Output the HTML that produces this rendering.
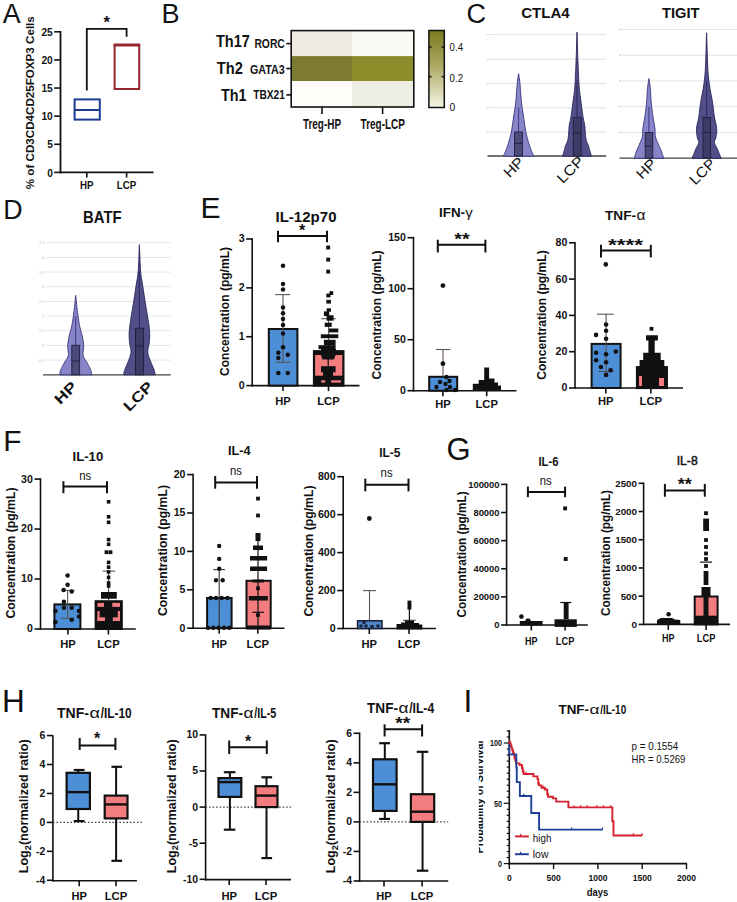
<!DOCTYPE html>
<html><head><meta charset="utf-8"><style>
html,body{margin:0;padding:0;background:#fff;}
svg{display:block;font-family:"Liberation Sans",sans-serif;}
</style></head><body>
<svg width="737" height="902" viewBox="0 0 737 902">
<rect x="0" y="0" width="737" height="902" fill="#ffffff"/>
<text x="2.65" y="22.8" font-size="26.8" font-weight="normal" text-anchor="start" fill="#111" >A</text>
<line x1="60.5" y1="31" x2="60.5" y2="173.3" stroke="#111" stroke-width="1.8" />
<line x1="59.6" y1="172.4" x2="153.5" y2="172.4" stroke="#111" stroke-width="1.8" />
<line x1="54.2" y1="172.4" x2="60.5" y2="172.4" stroke="#111" stroke-width="1.6" />
<text x="52.8" y="176.5" font-size="10.2" font-weight="bold" text-anchor="end" fill="#111" >0</text>
<line x1="54.2" y1="144.28" x2="60.5" y2="144.28" stroke="#111" stroke-width="1.6" />
<text x="52.8" y="148.38" font-size="10.2" font-weight="bold" text-anchor="end" fill="#111" >5</text>
<line x1="54.2" y1="116.16" x2="60.5" y2="116.16" stroke="#111" stroke-width="1.6" />
<text x="52.8" y="120.26" font-size="10.2" font-weight="bold" text-anchor="end" fill="#111" >10</text>
<line x1="54.2" y1="88.04" x2="60.5" y2="88.04" stroke="#111" stroke-width="1.6" />
<text x="52.8" y="92.14" font-size="10.2" font-weight="bold" text-anchor="end" fill="#111" >15</text>
<line x1="54.2" y1="59.92" x2="60.5" y2="59.92" stroke="#111" stroke-width="1.6" />
<text x="52.8" y="64.02" font-size="10.2" font-weight="bold" text-anchor="end" fill="#111" >20</text>
<line x1="54.2" y1="31.8" x2="60.5" y2="31.8" stroke="#111" stroke-width="1.6" />
<text x="52.8" y="35.9" font-size="10.2" font-weight="bold" text-anchor="end" fill="#111" >25</text>
<line x1="86.8" y1="172.4" x2="86.8" y2="177.5" stroke="#111" stroke-width="1.6" />
<line x1="126.6" y1="172.4" x2="126.6" y2="177.5" stroke="#111" stroke-width="1.6" />
<text x="86.8" y="189.2" font-size="10.2" font-weight="bold" text-anchor="middle" fill="#111" textLength="13.5" lengthAdjust="spacingAndGlyphs" >HP</text>
<text x="126.6" y="189.2" font-size="10.2" font-weight="bold" text-anchor="middle" fill="#111" textLength="19.5" lengthAdjust="spacingAndGlyphs" >LCP</text>
<text x="34.2" y="102.7" font-size="10.6" font-weight="bold" text-anchor="middle" fill="#111" textLength="173" lengthAdjust="spacingAndGlyphs" transform="rotate(-90 34.2 102.7)" >% of CD3CD4CD25FOXP3 Cells</text>
<rect x="74.6" y="99.4" width="25.2" height="20.2" fill="none" stroke="#1c3a92" stroke-width="2" />
<line x1="74.6" y1="110" x2="99.8" y2="110" stroke="#1c3a92" stroke-width="2" />
<rect x="114.6" y="45" width="24.6" height="44" fill="none" stroke="#95262e" stroke-width="2" />
<line x1="113.6" y1="45" x2="140.2" y2="45" stroke="#95262e" stroke-width="3" />
<path d="M86.8 90.5 V28.9 H126.6 V36.7" fill="none" stroke="#111" stroke-width="1.8" />
<text x="106.8" y="27.5" font-size="16.5" font-weight="bold" text-anchor="middle" fill="#111" >*</text>
<text x="161.5" y="22.8" font-size="27.1" font-weight="normal" text-anchor="start" fill="#111" >B</text>
<rect x="291.2" y="30.6" width="60.8" height="25.5" fill="#efebe1" stroke="none" stroke-width="0" />
<rect x="352" y="30.6" width="61.8" height="25.5" fill="#faf9f4" stroke="none" stroke-width="0" />
<rect x="291.2" y="56.1" width="60.8" height="24.9" fill="#7d7b31" stroke="none" stroke-width="0" />
<rect x="352" y="56.1" width="61.8" height="24.9" fill="#8f8d2b" stroke="none" stroke-width="0" />
<rect x="291.2" y="81" width="60.8" height="26" fill="#fefdfa" stroke="none" stroke-width="0" />
<rect x="352" y="81" width="61.8" height="26" fill="#efeee5" stroke="none" stroke-width="0" />
<rect x="291.2" y="30.6" width="122.6" height="76.4" fill="none" stroke="#111" stroke-width="1.6" />
<text x="216" y="46.9" font-size="15.6" font-weight="bold" text-anchor="start" fill="#111" textLength="33.8" lengthAdjust="spacingAndGlyphs" >Th17</text>
<text x="254.4" y="48" font-size="12.8" font-weight="bold" text-anchor="start" fill="#111" textLength="30.4" lengthAdjust="spacingAndGlyphs" >RORC</text>
<text x="216.8" y="74.1" font-size="15.6" font-weight="bold" text-anchor="start" fill="#111" textLength="26" lengthAdjust="spacingAndGlyphs" >Th2</text>
<text x="250" y="74.1" font-size="12.8" font-weight="bold" text-anchor="start" fill="#111" textLength="34.8" lengthAdjust="spacingAndGlyphs" >GATA3</text>
<text x="221" y="100.6" font-size="15.6" font-weight="bold" text-anchor="start" fill="#111" textLength="25.6" lengthAdjust="spacingAndGlyphs" >Th1</text>
<text x="253.2" y="99.3" font-size="12.8" font-weight="bold" text-anchor="start" fill="#111" textLength="31.6" lengthAdjust="spacingAndGlyphs" >TBX21</text>
<line x1="286.3" y1="43.6" x2="291.2" y2="43.6" stroke="#111" stroke-width="1.6" />
<line x1="286.3" y1="68.5" x2="291.2" y2="68.5" stroke="#111" stroke-width="1.6" />
<line x1="286.3" y1="94.9" x2="291.2" y2="94.9" stroke="#111" stroke-width="1.6" />
<line x1="322" y1="107" x2="322" y2="114" stroke="#111" stroke-width="1.6" />
<line x1="382.6" y1="107" x2="382.6" y2="114" stroke="#111" stroke-width="1.6" />
<text x="322" y="128.9" font-size="14" font-weight="bold" text-anchor="middle" fill="#111" textLength="38" lengthAdjust="spacingAndGlyphs" >Treg-HP</text>
<text x="382.8" y="128.9" font-size="14" font-weight="bold" text-anchor="middle" fill="#111" textLength="44.4" lengthAdjust="spacingAndGlyphs" >Treg-LCP</text>
<defs><linearGradient id="cbar" x1="0" y1="0" x2="0" y2="1"><stop offset="0" stop-color="#7c7a20"/><stop offset="0.45" stop-color="#aaa860"/><stop offset="1" stop-color="#f6f5e6"/></linearGradient></defs>
<rect x="428.9" y="30.5" width="15.4" height="77" fill="url(#cbar)" stroke="#111" stroke-width="1.5" />
<line x1="428.9" y1="47.1" x2="431.5" y2="47.1" stroke="#111" stroke-width="1.5" />
<line x1="441.7" y1="47.1" x2="444.3" y2="47.1" stroke="#111" stroke-width="1.5" />
<line x1="428.9" y1="76.6" x2="431.5" y2="76.6" stroke="#111" stroke-width="1.5" />
<line x1="441.7" y1="76.6" x2="444.3" y2="76.6" stroke="#111" stroke-width="1.5" />
<text x="449.6" y="51.3" font-size="11.6" font-weight="normal" text-anchor="start" fill="#111" textLength="13.4" lengthAdjust="spacingAndGlyphs" >0.4</text>
<text x="449.6" y="81.9" font-size="11.6" font-weight="normal" text-anchor="start" fill="#111" textLength="13.4" lengthAdjust="spacingAndGlyphs" >0.2</text>
<text x="449.6" y="111.4" font-size="11.6" font-weight="normal" text-anchor="start" fill="#111" textLength="5.8" lengthAdjust="spacingAndGlyphs" >0</text>
<text x="466.4" y="22.8" font-size="27" font-weight="normal" text-anchor="start" fill="#111" >C</text>
<text x="545.4" y="18.2" font-size="15.5" font-weight="bold" text-anchor="middle" fill="#111" textLength="48.5" lengthAdjust="spacingAndGlyphs" >CTLA4</text>
<text x="680.7" y="18.2" font-size="15.5" font-weight="bold" text-anchor="middle" fill="#111" textLength="37.5" lengthAdjust="spacingAndGlyphs" >TIGIT</text>
<line x1="488" y1="34.7" x2="606.2" y2="34.7" stroke="#e3e3e3" stroke-width="1" />
<line x1="487.2" y1="34.7" x2="488.6" y2="34.7" stroke="#bbbbbb" stroke-width="1" />
<line x1="488" y1="59.2" x2="606.2" y2="59.2" stroke="#e3e3e3" stroke-width="1" />
<line x1="487.2" y1="59.2" x2="488.6" y2="59.2" stroke="#bbbbbb" stroke-width="1" />
<line x1="488" y1="83.5" x2="606.2" y2="83.5" stroke="#e3e3e3" stroke-width="1" />
<line x1="487.2" y1="83.5" x2="488.6" y2="83.5" stroke="#bbbbbb" stroke-width="1" />
<line x1="488" y1="107.8" x2="606.2" y2="107.8" stroke="#e3e3e3" stroke-width="1" />
<line x1="487.2" y1="107.8" x2="488.6" y2="107.8" stroke="#bbbbbb" stroke-width="1" />
<line x1="488" y1="132.1" x2="606.2" y2="132.1" stroke="#e3e3e3" stroke-width="1" />
<line x1="487.2" y1="132.1" x2="488.6" y2="132.1" stroke="#bbbbbb" stroke-width="1" />
<line x1="487.5" y1="156" x2="606.2" y2="156" stroke="#444" stroke-width="1.3" />
<path d="M503.7 156.2 L503.68 156.17 L503.63 156.15 L503.58 156.12 L503.56 156.03 L503.59 155.83 L503.7 155.5 L503.9 155.01 L504.19 154.39 L504.52 153.66 L504.88 152.87 L505.25 152.04 L505.6 151.2 L505.94 150.33 L506.3 149.4 L506.66 148.44 L507.02 147.45 L507.37 146.47 L507.7 145.5 L508 144.58 L508.28 143.71 L508.55 142.83 L508.82 141.91 L509.1 140.92 L509.4 139.8 L509.73 138.6 L510.07 137.36 L510.43 136.03 L510.79 134.59 L511.15 132.99 L511.5 131.2 L511.85 129.16 L512.2 126.89 L512.55 124.46 L512.9 121.95 L513.25 119.44 L513.6 117 L513.96 114.62 L514.34 112.24 L514.71 109.85 L515.07 107.46 L515.41 105.08 L515.7 102.7 L515.94 100.26 L516.15 97.75 L516.33 95.24 L516.49 92.81 L516.65 90.54 L516.8 88.5 L516.95 86.73 L517.08 85.16 L517.21 83.76 L517.33 82.46 L517.46 81.22 L517.6 80 L517.77 78.75 L517.96 77.5 L518.15 76.32 L518.33 75.25 L518.49 74.36 L518.6 73.7 L518.6 73.7 L518.71 74.36 L518.87 75.25 L519.05 76.32 L519.24 77.5 L519.43 78.75 L519.6 80 L519.74 81.22 L519.87 82.46 L519.99 83.76 L520.12 85.16 L520.25 86.73 L520.4 88.5 L520.55 90.54 L520.71 92.81 L520.87 95.24 L521.05 97.75 L521.26 100.26 L521.5 102.7 L521.79 105.08 L522.13 107.46 L522.49 109.85 L522.86 112.24 L523.24 114.62 L523.6 117 L523.95 119.44 L524.3 121.95 L524.65 124.46 L525 126.89 L525.35 129.16 L525.7 131.2 L526.05 132.99 L526.41 134.59 L526.78 136.03 L527.13 137.36 L527.47 138.6 L527.8 139.8 L528.1 140.92 L528.38 141.91 L528.65 142.83 L528.92 143.71 L529.2 144.58 L529.5 145.5 L529.83 146.47 L530.18 147.45 L530.54 148.44 L530.9 149.4 L531.26 150.33 L531.6 151.2 L531.95 152.04 L532.32 152.87 L532.68 153.66 L533.01 154.39 L533.3 155.01 L533.5 155.5 L533.61 155.83 L533.64 156.03 L533.62 156.12 L533.57 156.15 L533.52 156.17 L533.5 156.2 L503.7 156.2" fill="#8784c7" stroke="#36317a" stroke-width="0.9" />
<line x1="518.6" y1="107.8" x2="518.6" y2="132" stroke="#36317a" stroke-width="0.9" />
<rect x="514.5" y="132" width="7.9" height="24" fill="#4c4a78" stroke="#1f1d40" stroke-width="0.9" />
<line x1="514.5" y1="143.4" x2="522.4" y2="143.4" stroke="#1f1d40" stroke-width="0.9" />
<path d="M562.7 156.2 L562.7 156.17 L562.69 156.15 L562.67 156.12 L562.68 156.03 L562.72 155.83 L562.8 155.5 L562.93 155.01 L563.1 154.39 L563.31 153.66 L563.53 152.87 L563.76 152.04 L564 151.2 L564.24 150.33 L564.48 149.4 L564.73 148.44 L565 147.45 L565.29 146.47 L565.6 145.5 L565.96 144.58 L566.37 143.71 L566.79 142.83 L567.21 141.91 L567.59 140.92 L567.9 139.8 L568.14 138.5 L568.32 137.04 L568.47 135.5 L568.59 133.96 L568.7 132.5 L568.8 131.2 L568.88 130.11 L568.92 129.19 L568.95 128.34 L568.99 127.5 L569.06 126.58 L569.2 125.5 L569.41 124.31 L569.68 123.09 L569.98 121.79 L570.3 120.37 L570.63 118.78 L570.95 117 L571.27 114.95 L571.59 112.66 L571.92 110.21 L572.25 107.67 L572.58 105.14 L572.9 102.7 L573.22 100.33 L573.55 97.96 L573.87 95.6 L574.18 93.24 L574.46 90.87 L574.7 88.5 L574.89 86.15 L575.04 83.82 L575.17 81.49 L575.28 79.13 L575.38 76.71 L575.5 74.2 L575.62 71.68 L575.74 69.2 L575.85 66.65 L575.96 63.95 L576.08 61 L576.2 57.7 L576.34 53.68 L576.49 48.92 L576.64 43.92 L576.79 39.14 L576.91 35.08 L577 32.2 L577 32.2 L577.09 35.08 L577.21 39.14 L577.36 43.92 L577.51 48.92 L577.66 53.68 L577.8 57.7 L577.92 61 L578.04 63.95 L578.15 66.65 L578.26 69.2 L578.38 71.68 L578.5 74.2 L578.62 76.71 L578.72 79.13 L578.83 81.49 L578.96 83.82 L579.11 86.15 L579.3 88.5 L579.54 90.87 L579.82 93.24 L580.13 95.6 L580.45 97.96 L580.78 100.33 L581.1 102.7 L581.42 105.14 L581.75 107.67 L582.08 110.21 L582.41 112.66 L582.73 114.95 L583.05 117 L583.37 118.78 L583.7 120.37 L584.02 121.79 L584.32 123.09 L584.59 124.31 L584.8 125.5 L584.94 126.58 L585.01 127.5 L585.05 128.34 L585.08 129.19 L585.12 130.11 L585.2 131.2 L585.3 132.5 L585.41 133.96 L585.53 135.5 L585.68 137.04 L585.86 138.5 L586.1 139.8 L586.41 140.92 L586.79 141.91 L587.21 142.83 L587.63 143.71 L588.04 144.58 L588.4 145.5 L588.71 146.47 L589 147.45 L589.27 148.44 L589.52 149.4 L589.76 150.33 L590 151.2 L590.24 152.04 L590.47 152.87 L590.69 153.66 L590.9 154.39 L591.07 155.01 L591.2 155.5 L591.28 155.83 L591.32 156.03 L591.33 156.12 L591.31 156.15 L591.3 156.17 L591.3 156.2 L562.7 156.2" fill="#524f88" stroke="#27245a" stroke-width="0.9" />
<line x1="577" y1="80" x2="577" y2="117.6" stroke="#27245a" stroke-width="0.9" />
<rect x="573.3" y="117.6" width="7.9" height="38.4" fill="#3d3b66" stroke="#1f1d40" stroke-width="0.9" />
<line x1="573.3" y1="133" x2="581.2" y2="133" stroke="#1f1d40" stroke-width="0.9" />
<line x1="622" y1="29.4" x2="737" y2="29.4" stroke="#e3e3e3" stroke-width="1" />
<line x1="619" y1="29.4" x2="620.6" y2="29.4" stroke="#bbbbbb" stroke-width="1" />
<line x1="622" y1="55.2" x2="737" y2="55.2" stroke="#e3e3e3" stroke-width="1" />
<line x1="619" y1="55.2" x2="620.6" y2="55.2" stroke="#bbbbbb" stroke-width="1" />
<line x1="622" y1="80.9" x2="737" y2="80.9" stroke="#e3e3e3" stroke-width="1" />
<line x1="619" y1="80.9" x2="620.6" y2="80.9" stroke="#bbbbbb" stroke-width="1" />
<line x1="622" y1="106.7" x2="737" y2="106.7" stroke="#e3e3e3" stroke-width="1" />
<line x1="619" y1="106.7" x2="620.6" y2="106.7" stroke="#bbbbbb" stroke-width="1" />
<line x1="622" y1="132.5" x2="737" y2="132.5" stroke="#e3e3e3" stroke-width="1" />
<line x1="619" y1="132.5" x2="620.6" y2="132.5" stroke="#bbbbbb" stroke-width="1" />
<line x1="619.5" y1="158.1" x2="737" y2="158.1" stroke="#444" stroke-width="1.3" />
<path d="M634.3 158.3 L634.29 158.28 L634.26 158.3 L634.22 158.29 L634.22 158.2 L634.27 157.96 L634.4 157.5 L634.62 156.76 L634.91 155.79 L635.25 154.66 L635.63 153.46 L636.02 152.28 L636.4 151.2 L636.78 150.25 L637.16 149.36 L637.56 148.49 L637.98 147.59 L638.43 146.61 L638.9 145.5 L639.45 144.23 L640.07 142.84 L640.72 141.38 L641.34 139.87 L641.89 138.36 L642.3 136.9 L642.54 135.51 L642.64 134.17 L642.67 132.82 L642.67 131.44 L642.71 129.98 L642.85 128.4 L643.1 126.7 L643.4 124.92 L643.75 123.06 L644.11 121.12 L644.47 119.1 L644.8 117 L645.11 114.78 L645.43 112.44 L645.74 110.03 L646.03 107.57 L646.31 105.11 L646.55 102.7 L646.75 100.28 L646.91 97.8 L647.05 95.33 L647.18 92.92 L647.32 90.62 L647.5 88.5 L647.72 86.47 L647.99 84.49 L648.26 82.61 L648.52 80.94 L648.74 79.54 L648.9 78.5 L648.9 78.5 L649.06 79.54 L649.28 80.94 L649.54 82.61 L649.81 84.49 L650.08 86.47 L650.3 88.5 L650.48 90.62 L650.62 92.92 L650.75 95.33 L650.89 97.8 L651.05 100.28 L651.25 102.7 L651.49 105.11 L651.77 107.57 L652.06 110.03 L652.37 112.44 L652.69 114.78 L653 117 L653.33 119.1 L653.69 121.12 L654.05 123.06 L654.4 124.92 L654.7 126.7 L654.95 128.4 L655.09 129.98 L655.13 131.44 L655.13 132.82 L655.16 134.17 L655.26 135.51 L655.5 136.9 L655.91 138.36 L656.46 139.87 L657.08 141.38 L657.73 142.84 L658.35 144.23 L658.9 145.5 L659.37 146.61 L659.82 147.59 L660.24 148.49 L660.64 149.36 L661.02 150.25 L661.4 151.2 L661.78 152.28 L662.17 153.46 L662.55 154.66 L662.89 155.79 L663.18 156.76 L663.4 157.5 L663.53 157.96 L663.58 158.2 L663.58 158.29 L663.54 158.3 L663.51 158.28 L663.5 158.3 L634.3 158.3" fill="#8784c7" stroke="#36317a" stroke-width="0.9" />
<line x1="648.9" y1="106.7" x2="648.9" y2="132.5" stroke="#36317a" stroke-width="0.9" />
<rect x="645.2" y="132.5" width="7.6" height="25.5" fill="#4c4a78" stroke="#1f1d40" stroke-width="0.9" />
<line x1="645.2" y1="146.2" x2="652.8" y2="146.2" stroke="#1f1d40" stroke-width="0.9" />
<path d="M692.2 158.3 L692.19 158.24 L692.17 158.19 L692.16 158.12 L692.16 158 L692.2 157.8 L692.3 157.5 L692.46 157.1 L692.67 156.61 L692.91 156.06 L693.19 155.43 L693.49 154.74 L693.8 154 L694.13 153.18 L694.5 152.26 L694.88 151.29 L695.28 150.28 L695.69 149.28 L696.1 148.3 L696.56 147.35 L697.1 146.4 L697.64 145.45 L698.13 144.5 L698.5 143.55 L698.7 142.6 L698.68 141.68 L698.47 140.8 L698.16 139.92 L697.79 139.01 L697.45 138.01 L697.2 136.9 L697 135.68 L696.8 134.38 L696.61 133.01 L696.48 131.55 L696.43 130.02 L696.5 128.4 L696.72 126.7 L697.06 124.92 L697.49 123.06 L697.96 121.12 L698.41 119.1 L698.8 117 L699.12 114.78 L699.41 112.44 L699.68 110.03 L699.96 107.57 L700.26 105.11 L700.6 102.7 L701 100.33 L701.44 97.96 L701.9 95.6 L702.36 93.24 L702.8 90.87 L703.2 88.5 L703.56 86.15 L703.9 83.82 L704.21 81.49 L704.5 79.13 L704.77 76.71 L705 74.2 L705.19 71.67 L705.34 69.17 L705.46 66.61 L705.57 63.9 L705.68 60.96 L705.8 57.7 L705.94 53.75 L706.1 49.1 L706.25 44.22 L706.39 39.57 L706.51 35.61 L706.6 32.8 L706.6 32.8 L706.69 35.61 L706.81 39.57 L706.95 44.22 L707.1 49.1 L707.26 53.75 L707.4 57.7 L707.52 60.96 L707.63 63.9 L707.74 66.61 L707.86 69.17 L708.01 71.67 L708.2 74.2 L708.43 76.71 L708.7 79.13 L708.99 81.49 L709.3 83.82 L709.64 86.15 L710 88.5 L710.4 90.87 L710.84 93.24 L711.3 95.6 L711.76 97.96 L712.2 100.33 L712.6 102.7 L712.94 105.11 L713.24 107.57 L713.52 110.03 L713.79 112.44 L714.08 114.78 L714.4 117 L714.79 119.1 L715.24 121.12 L715.71 123.06 L716.14 124.92 L716.48 126.7 L716.7 128.4 L716.77 130.02 L716.72 131.55 L716.59 133.01 L716.4 134.38 L716.2 135.68 L716 136.9 L715.75 138.01 L715.41 139.01 L715.04 139.92 L714.73 140.8 L714.52 141.68 L714.5 142.6 L714.7 143.55 L715.07 144.5 L715.56 145.45 L716.1 146.4 L716.64 147.35 L717.1 148.3 L717.51 149.28 L717.92 150.28 L718.32 151.29 L718.7 152.26 L719.07 153.18 L719.4 154 L719.71 154.74 L720.01 155.43 L720.29 156.06 L720.53 156.61 L720.74 157.1 L720.9 157.5 L721 157.8 L721.04 158 L721.04 158.12 L721.03 158.19 L721.01 158.24 L721 158.3 L692.2 158.3" fill="#524f88" stroke="#27245a" stroke-width="0.9" />
<line x1="706.6" y1="81" x2="706.6" y2="117.4" stroke="#27245a" stroke-width="0.9" />
<rect x="703" y="117.4" width="7.6" height="40.6" fill="#3d3b66" stroke="#1f1d40" stroke-width="0.9" />
<line x1="703" y1="132.5" x2="710.6" y2="132.5" stroke="#1f1d40" stroke-width="0.9" />
<text x="525" y="163" font-size="14.5" font-weight="normal" text-anchor="end" fill="#111" textLength="22" lengthAdjust="spacingAndGlyphs" transform="rotate(-45 525 163)" >HP</text>
<text x="585" y="162" font-size="14.5" font-weight="normal" text-anchor="end" fill="#111" textLength="31.5" lengthAdjust="spacingAndGlyphs" transform="rotate(-45 585 162)" >LCP</text>
<text x="657.5" y="164.5" font-size="14.5" font-weight="normal" text-anchor="end" fill="#111" textLength="22" lengthAdjust="spacingAndGlyphs" transform="rotate(-45 657.5 164.5)" >HP</text>
<text x="716.5" y="164.5" font-size="14.5" font-weight="normal" text-anchor="end" fill="#111" textLength="30" lengthAdjust="spacingAndGlyphs" transform="rotate(-45 716.5 164.5)" >LCP</text>
<text x="3.2" y="219.4" font-size="26.8" font-weight="normal" text-anchor="start" fill="#111" >D</text>
<text x="102.3" y="223" font-size="16.5" font-weight="bold" text-anchor="middle" fill="#111" textLength="38.5" lengthAdjust="spacingAndGlyphs" >BATF</text>
<line x1="46" y1="242.8" x2="170.7" y2="242.8" stroke="#e6e6e6" stroke-width="1" />
<text x="44.5" y="244.3" font-size="4.2" font-weight="normal" text-anchor="end" fill="#c4c4c4" >4.5</text>
<line x1="46" y1="257.47" x2="170.7" y2="257.47" stroke="#e6e6e6" stroke-width="1" />
<text x="44.5" y="258.97" font-size="4.2" font-weight="normal" text-anchor="end" fill="#c4c4c4" >4</text>
<line x1="46" y1="272.13" x2="170.7" y2="272.13" stroke="#e6e6e6" stroke-width="1" />
<text x="44.5" y="273.63" font-size="4.2" font-weight="normal" text-anchor="end" fill="#c4c4c4" >3.5</text>
<line x1="46" y1="286.8" x2="170.7" y2="286.8" stroke="#e6e6e6" stroke-width="1" />
<text x="44.5" y="288.3" font-size="4.2" font-weight="normal" text-anchor="end" fill="#c4c4c4" >3</text>
<line x1="46" y1="301.47" x2="170.7" y2="301.47" stroke="#e6e6e6" stroke-width="1" />
<text x="44.5" y="302.97" font-size="4.2" font-weight="normal" text-anchor="end" fill="#c4c4c4" >2.5</text>
<line x1="46" y1="316.13" x2="170.7" y2="316.13" stroke="#e6e6e6" stroke-width="1" />
<text x="44.5" y="317.63" font-size="4.2" font-weight="normal" text-anchor="end" fill="#c4c4c4" >2</text>
<line x1="46" y1="330.8" x2="170.7" y2="330.8" stroke="#e6e6e6" stroke-width="1" />
<text x="44.5" y="332.3" font-size="4.2" font-weight="normal" text-anchor="end" fill="#c4c4c4" >1.5</text>
<line x1="46" y1="345.47" x2="170.7" y2="345.47" stroke="#e6e6e6" stroke-width="1" />
<text x="44.5" y="346.97" font-size="4.2" font-weight="normal" text-anchor="end" fill="#c4c4c4" >1</text>
<line x1="46" y1="360.14" x2="170.7" y2="360.14" stroke="#e6e6e6" stroke-width="1" />
<text x="44.5" y="361.64" font-size="4.2" font-weight="normal" text-anchor="end" fill="#c4c4c4" >0.5</text>
<line x1="43" y1="374.8" x2="170.7" y2="374.8" stroke="#444" stroke-width="1.3" />
<path d="M59.6 374.8 L59.6 374.76 L59.59 374.73 L59.58 374.68 L59.58 374.57 L59.62 374.36 L59.7 374 L59.81 373.48 L59.95 372.84 L60.11 372.09 L60.32 371.26 L60.58 370.39 L60.9 369.5 L61.29 368.58 L61.75 367.62 L62.26 366.61 L62.81 365.55 L63.39 364.45 L64 363.3 L64.7 362.11 L65.53 360.88 L66.38 359.6 L67.19 358.28 L67.85 356.91 L68.3 355.5 L68.46 354.03 L68.39 352.49 L68.19 350.9 L67.94 349.29 L67.75 347.69 L67.7 346.1 L67.79 344.55 L67.94 343.02 L68.14 341.49 L68.39 339.94 L68.67 338.35 L69 336.7 L69.39 335.02 L69.84 333.35 L70.34 331.64 L70.85 329.84 L71.34 327.91 L71.8 325.8 L72.23 323.46 L72.64 320.92 L73.05 318.24 L73.43 315.51 L73.8 312.81 L74.14 310.2 L74.46 307.52 L74.78 304.66 L75.07 301.82 L75.32 299.21 L75.54 297 L75.7 295.4 L75.7 295.4 L75.86 297 L76.08 299.21 L76.33 301.82 L76.62 304.66 L76.94 307.52 L77.26 310.2 L77.6 312.81 L77.97 315.51 L78.35 318.24 L78.76 320.92 L79.17 323.46 L79.6 325.8 L80.06 327.91 L80.55 329.84 L81.07 331.64 L81.56 333.35 L82.01 335.02 L82.4 336.7 L82.73 338.35 L83.01 339.94 L83.26 341.49 L83.46 343.02 L83.61 344.55 L83.7 346.1 L83.65 347.69 L83.46 349.29 L83.21 350.9 L83.01 352.49 L82.94 354.03 L83.1 355.5 L83.55 356.91 L84.21 358.28 L85.02 359.6 L85.87 360.88 L86.7 362.11 L87.4 363.3 L88.01 364.45 L88.59 365.55 L89.14 366.61 L89.65 367.62 L90.11 368.58 L90.5 369.5 L90.82 370.39 L91.08 371.26 L91.29 372.09 L91.45 372.84 L91.59 373.48 L91.7 374 L91.78 374.36 L91.82 374.57 L91.83 374.68 L91.81 374.73 L91.8 374.76 L91.8 374.8 L59.6 374.8" fill="#8784c7" stroke="#36317a" stroke-width="0.9" />
<line x1="75.7" y1="316.5" x2="75.7" y2="345.3" stroke="#36317a" stroke-width="0.9" />
<rect x="71.8" y="345.3" width="7.8" height="29.5" fill="#4c4a78" stroke="#1f1d40" stroke-width="0.9" />
<line x1="71.8" y1="361" x2="79.6" y2="361" stroke="#1f1d40" stroke-width="0.9" />
<path d="M123.6 374.8 L123.6 374.76 L123.59 374.73 L123.58 374.68 L123.59 374.57 L123.62 374.36 L123.7 374 L123.8 373.5 L123.91 372.9 L124.05 372.19 L124.23 371.38 L124.48 370.48 L124.8 369.5 L125.23 368.41 L125.75 367.2 L126.34 365.91 L126.95 364.54 L127.55 363.13 L128.1 361.7 L128.66 360.24 L129.26 358.74 L129.86 357.19 L130.38 355.6 L130.78 353.97 L131 352.3 L130.98 350.57 L130.74 348.78 L130.39 346.94 L129.99 345.09 L129.63 343.23 L129.4 341.4 L129.28 339.6 L129.19 337.83 L129.14 336.05 L129.14 334.25 L129.2 332.41 L129.3 330.5 L129.47 328.55 L129.7 326.57 L129.98 324.54 L130.3 322.46 L130.65 320.28 L131 318 L131.38 315.58 L131.79 313.03 L132.23 310.39 L132.68 307.71 L133.13 305.04 L133.55 302.4 L133.95 299.8 L134.35 297.2 L134.74 294.6 L135.13 292 L135.51 289.4 L135.9 286.8 L136.3 284.33 L136.71 282 L137.12 279.68 L137.52 277.21 L137.88 274.43 L138.2 271.2 L138.48 267.11 L138.73 262.19 L138.94 256.97 L139.13 251.97 L139.28 247.71 L139.4 244.7 L139.4 244.7 L139.52 247.71 L139.67 251.97 L139.86 256.97 L140.07 262.19 L140.32 267.11 L140.6 271.2 L140.92 274.43 L141.28 277.21 L141.68 279.68 L142.09 282 L142.5 284.33 L142.9 286.8 L143.29 289.4 L143.67 292 L144.06 294.6 L144.45 297.2 L144.85 299.8 L145.25 302.4 L145.67 305.04 L146.12 307.71 L146.57 310.39 L147.01 313.03 L147.42 315.58 L147.8 318 L148.15 320.28 L148.5 322.46 L148.82 324.54 L149.1 326.57 L149.33 328.55 L149.5 330.5 L149.6 332.41 L149.66 334.25 L149.66 336.05 L149.61 337.83 L149.52 339.6 L149.4 341.4 L149.17 343.23 L148.81 345.09 L148.41 346.94 L148.06 348.78 L147.82 350.57 L147.8 352.3 L148.02 353.97 L148.42 355.6 L148.94 357.19 L149.54 358.74 L150.14 360.24 L150.7 361.7 L151.25 363.13 L151.85 364.54 L152.46 365.91 L153.05 367.2 L153.57 368.41 L154 369.5 L154.32 370.48 L154.57 371.38 L154.75 372.19 L154.89 372.9 L155 373.5 L155.1 374 L155.18 374.36 L155.21 374.57 L155.22 374.68 L155.21 374.73 L155.2 374.76 L155.2 374.8 L123.6 374.8" fill="#524f88" stroke="#27245a" stroke-width="0.9" />
<line x1="139.4" y1="271" x2="139.4" y2="328.2" stroke="#27245a" stroke-width="0.9" />
<rect x="135.5" y="328.2" width="8.1" height="46.6" fill="#3d3b66" stroke="#1f1d40" stroke-width="0.9" />
<line x1="135.5" y1="346.1" x2="143.6" y2="346.1" stroke="#1f1d40" stroke-width="0.9" />
<text x="78" y="387.5" font-size="14.5" font-weight="bold" text-anchor="end" fill="#111" textLength="25" lengthAdjust="spacingAndGlyphs" transform="rotate(-45 78 387.5)" >HP</text>
<text x="154" y="387.5" font-size="14.5" font-weight="bold" text-anchor="end" fill="#111" textLength="35" lengthAdjust="spacingAndGlyphs" transform="rotate(-45 154 387.5)" >LCP</text>
<text x="200.6" y="217.8" font-size="30.1" font-weight="normal" text-anchor="start" fill="#111" >E</text>
<text x="306" y="221.9" font-size="14" font-weight="bold" text-anchor="middle" fill="#111" textLength="61" lengthAdjust="spacingAndGlyphs" >IL-12p70</text>
<line x1="252.2" y1="238.2" x2="252.2" y2="386.4" stroke="#111" stroke-width="1.6" />
<line x1="251.4" y1="385.6" x2="359.5" y2="385.6" stroke="#111" stroke-width="1.6" />
<line x1="246.2" y1="385.6" x2="252.2" y2="385.6" stroke="#111" stroke-width="1.6" />
<text x="244.6" y="389" font-size="10.6" font-weight="bold" text-anchor="end" fill="#111" >0</text>
<line x1="246.2" y1="336.73" x2="252.2" y2="336.73" stroke="#111" stroke-width="1.6" />
<text x="244.6" y="340.13" font-size="10.6" font-weight="bold" text-anchor="end" fill="#111" >1</text>
<line x1="246.2" y1="287.87" x2="252.2" y2="287.87" stroke="#111" stroke-width="1.6" />
<text x="244.6" y="291.27" font-size="10.6" font-weight="bold" text-anchor="end" fill="#111" >2</text>
<line x1="246.2" y1="239" x2="252.2" y2="239" stroke="#111" stroke-width="1.6" />
<text x="244.6" y="242.4" font-size="10.6" font-weight="bold" text-anchor="end" fill="#111" >3</text>
<text x="228.6" y="311.5" font-size="13.6" font-weight="bold" text-anchor="middle" fill="#111" textLength="129" lengthAdjust="spacingAndGlyphs" transform="rotate(-90 228.6 311.5)" >Concentration (pg/mL)</text>
<line x1="278" y1="235.9" x2="327" y2="235.9" stroke="#111" stroke-width="2" />
<line x1="278" y1="230.8" x2="278" y2="242.3" stroke="#111" stroke-width="2" />
<line x1="327" y1="230.8" x2="327" y2="242.3" stroke="#111" stroke-width="2" />
<text x="302.2" y="236" font-size="16" font-weight="bold" text-anchor="middle" fill="#111" >*</text>
<rect x="268.8" y="329" width="28.6" height="56.6" fill="#4d8fd6" stroke="#111" stroke-width="2" />
<line x1="283" y1="294.6" x2="283" y2="362.3" stroke="#555" stroke-width="1.1" />
<line x1="275.3" y1="294.6" x2="290.3" y2="294.6" stroke="#555" stroke-width="1.1" />
<line x1="275.3" y1="362.3" x2="290.3" y2="362.3" stroke="#555" stroke-width="1.1" />
<circle cx="283" cy="265.8" r="2.25" fill="#111"/>
<circle cx="283" cy="284.1" r="2.25" fill="#111"/>
<circle cx="283" cy="289.6" r="2.25" fill="#111"/>
<circle cx="283" cy="307.4" r="2.25" fill="#111"/>
<circle cx="283" cy="313.2" r="2.25" fill="#111"/>
<circle cx="283" cy="319" r="2.25" fill="#111"/>
<circle cx="283" cy="324.9" r="2.25" fill="#111"/>
<circle cx="283" cy="333.5" r="2.25" fill="#111"/>
<circle cx="283" cy="347.3" r="2.25" fill="#111"/>
<circle cx="278.3" cy="352.8" r="2.25" fill="#111"/>
<circle cx="287.8" cy="354.8" r="2.25" fill="#111"/>
<circle cx="278.3" cy="358.1" r="2.25" fill="#111"/>
<circle cx="278.3" cy="373.1" r="2.25" fill="#111"/>
<circle cx="287.8" cy="373.1" r="2.25" fill="#111"/>
<rect x="314" y="351.2" width="29.4" height="34.4" fill="#f27c7e" stroke="#111" stroke-width="2.2" />
<rect x="314" y="351" width="29.4" height="4" fill="#111" stroke="none" stroke-width="0" />
<path d="M321 355 L335.6 355 L334 359.6 L322.5 359.6" fill="#111" stroke="none" stroke-width="0" />
<line x1="328.2" y1="359" x2="328.2" y2="367" stroke="#111" stroke-width="1.2" />
<rect x="321" y="366.2" width="14.6" height="6.1" fill="#111" stroke="none" stroke-width="0" />
<rect x="323" y="372" width="10" height="4" fill="#111" stroke="none" stroke-width="0" />
<rect x="314" y="375.7" width="29.4" height="9.9" fill="#111" stroke="none" stroke-width="0" />
<rect x="321.2" y="380.3" width="4.1" height="2.3" fill="#f27c7e" stroke="none" stroke-width="0" />
<rect x="331" y="380.3" width="10" height="2.3" fill="#f27c7e" stroke="none" stroke-width="0" />
<line x1="328.6" y1="318.7" x2="328.6" y2="351" stroke="#555" stroke-width="1.1" />
<line x1="321.3" y1="318.7" x2="335.8" y2="318.7" stroke="#555" stroke-width="1.1" />
<rect x="326.25" y="245.55" width="3.9" height="3.9" fill="#111"/>
<rect x="326.25" y="257.65" width="3.9" height="3.9" fill="#111"/>
<rect x="326.25" y="269.65" width="3.9" height="3.9" fill="#111"/>
<rect x="329.5" y="291.2" width="3.7" height="3.8" fill="#111" stroke="none" stroke-width="0" />
<rect x="326.3" y="293.6" width="4.2" height="3.8" fill="#111" stroke="none" stroke-width="0" />
<rect x="326.3" y="299.8" width="4.6" height="3.8" fill="#111" stroke="none" stroke-width="0" />
<rect x="326.6" y="308.3" width="4.3" height="3.5" fill="#111" stroke="none" stroke-width="0" />
<rect x="323.9" y="311.4" width="5.3" height="4.7" fill="#111" stroke="none" stroke-width="0" />
<rect x="326.6" y="315.3" width="7" height="5.4" fill="#111" stroke="none" stroke-width="0" />
<rect x="324.7" y="322.7" width="7" height="4.2" fill="#111" stroke="none" stroke-width="0" />
<rect x="329" y="328.5" width="9.3" height="3.9" fill="#111" stroke="none" stroke-width="0" />
<rect x="320.8" y="334.3" width="17.5" height="3.9" fill="#111" stroke="none" stroke-width="0" />
<rect x="323.9" y="339.8" width="11.7" height="5.6" fill="#111" stroke="none" stroke-width="0" />
<rect x="318.5" y="345.2" width="17.1" height="3.9" fill="#111" stroke="none" stroke-width="0" />
<rect x="321" y="349" width="15" height="2.5" fill="#111" stroke="none" stroke-width="0" />
<line x1="283" y1="385.6" x2="283" y2="391.1" stroke="#111" stroke-width="1.6" />
<line x1="328.5" y1="385.6" x2="328.5" y2="391.1" stroke="#111" stroke-width="1.6" />
<text x="283" y="405.4" font-size="11.3" font-weight="bold" text-anchor="middle" fill="#111" textLength="15.5" lengthAdjust="spacingAndGlyphs" >HP</text>
<text x="328.5" y="405.4" font-size="11.3" font-weight="bold" text-anchor="middle" fill="#111" textLength="22.5" lengthAdjust="spacingAndGlyphs" >LCP</text>
<text x="465" y="216.8" font-size="13.2" font-weight="bold" text-anchor="end" fill="#111" textLength="26" lengthAdjust="spacingAndGlyphs" >IFN-</text>
<text x="465.3" y="216.8" font-size="13.5" font-weight="normal" text-anchor="start" fill="#111" textLength="7.5" lengthAdjust="spacingAndGlyphs" >γ</text>
<line x1="413.5" y1="236.9" x2="413.5" y2="391.5" stroke="#111" stroke-width="1.6" />
<line x1="412.7" y1="390.7" x2="516.5" y2="390.7" stroke="#111" stroke-width="1.6" />
<line x1="407.5" y1="390.7" x2="413.5" y2="390.7" stroke="#111" stroke-width="1.6" />
<text x="405.9" y="394.1" font-size="10.6" font-weight="bold" text-anchor="end" fill="#111" >0</text>
<line x1="407.5" y1="339.7" x2="413.5" y2="339.7" stroke="#111" stroke-width="1.6" />
<text x="405.9" y="343.1" font-size="10.6" font-weight="bold" text-anchor="end" fill="#111" >50</text>
<line x1="407.5" y1="288.7" x2="413.5" y2="288.7" stroke="#111" stroke-width="1.6" />
<text x="405.9" y="292.1" font-size="10.6" font-weight="bold" text-anchor="end" fill="#111" >100</text>
<line x1="407.5" y1="237.7" x2="413.5" y2="237.7" stroke="#111" stroke-width="1.6" />
<text x="405.9" y="241.1" font-size="10.6" font-weight="bold" text-anchor="end" fill="#111" >150</text>
<text x="381.3" y="315" font-size="13.6" font-weight="bold" text-anchor="middle" fill="#111" textLength="129" lengthAdjust="spacingAndGlyphs" transform="rotate(-90 381.3 315)" >Concentration (pg/mL)</text>
<line x1="437.8" y1="244.8" x2="485.4" y2="244.8" stroke="#111" stroke-width="2" />
<line x1="437.8" y1="239.7" x2="437.8" y2="252.5" stroke="#111" stroke-width="2" />
<line x1="485.4" y1="239.7" x2="485.4" y2="252.5" stroke="#111" stroke-width="2" />
<text x="462" y="244.6" font-size="16" font-weight="bold" text-anchor="middle" fill="#111" textLength="15.3" lengthAdjust="spacingAndGlyphs" >**</text>
<rect x="429.2" y="376.8" width="28" height="13.9" fill="#4d8fd6" stroke="#111" stroke-width="2" />
<line x1="443" y1="349.5" x2="443" y2="376.8" stroke="#6a5550" stroke-width="1.1" />
<line x1="436" y1="349.5" x2="450.5" y2="349.5" stroke="#555" stroke-width="1.1" />
<circle cx="442.9" cy="285.6" r="2.4" fill="#111"/>
<circle cx="442.9" cy="363.7" r="2.4" fill="#111"/>
<circle cx="446.5" cy="377" r="2.2" fill="#111"/>
<circle cx="449.5" cy="381" r="2.2" fill="#111"/>
<circle cx="445.5" cy="384" r="2.2" fill="#111"/>
<circle cx="450" cy="387" r="2.2" fill="#111"/>
<circle cx="436.5" cy="387" r="2.2" fill="#111"/>
<circle cx="440" cy="382" r="2.2" fill="#111"/>
<circle cx="446.5" cy="390" r="2.2" fill="#111"/>
<circle cx="455" cy="390" r="2.2" fill="#111"/>
<path d="M484.2 390.7 L484.2 367.5 L489.1 367.5 L489.1 378.5 L494.5 378.5 L494.5 382.5 L498 382.5 L498 385.5 L501 385.5 L501 390.7" fill="#111" stroke="none" stroke-width="0" />
<path d="M472.8 390.7 L472.8 383.8 L478.7 383.8 L478.7 380 L486 380 L486 390.7" fill="#111" stroke="none" stroke-width="0" />
<line x1="442.9" y1="390.7" x2="442.9" y2="396.2" stroke="#111" stroke-width="1.6" />
<line x1="486.7" y1="390.7" x2="486.7" y2="396.2" stroke="#111" stroke-width="1.6" />
<text x="442.9" y="408.4" font-size="11.3" font-weight="bold" text-anchor="middle" fill="#111" textLength="15.5" lengthAdjust="spacingAndGlyphs" >HP</text>
<text x="486.7" y="408.4" font-size="11.3" font-weight="bold" text-anchor="middle" fill="#111" textLength="22.5" lengthAdjust="spacingAndGlyphs" >LCP</text>
<text x="636" y="219.5" font-size="13.6" font-weight="bold" text-anchor="end" fill="#111" textLength="31" lengthAdjust="spacingAndGlyphs" >TNF-</text>
<text x="636.5" y="219.5" font-size="14" font-weight="normal" text-anchor="start" fill="#111" textLength="9" lengthAdjust="spacingAndGlyphs" >α</text>
<line x1="575" y1="242" x2="575" y2="388.8" stroke="#111" stroke-width="1.6" />
<line x1="574.2" y1="388" x2="683" y2="388" stroke="#111" stroke-width="1.6" />
<line x1="569" y1="388" x2="575" y2="388" stroke="#111" stroke-width="1.6" />
<text x="567.4" y="391.4" font-size="10.6" font-weight="bold" text-anchor="end" fill="#111" >0</text>
<line x1="569" y1="351.7" x2="575" y2="351.7" stroke="#111" stroke-width="1.6" />
<text x="567.4" y="355.1" font-size="10.6" font-weight="bold" text-anchor="end" fill="#111" >20</text>
<line x1="569" y1="315.4" x2="575" y2="315.4" stroke="#111" stroke-width="1.6" />
<text x="567.4" y="318.8" font-size="10.6" font-weight="bold" text-anchor="end" fill="#111" >40</text>
<line x1="569" y1="279.1" x2="575" y2="279.1" stroke="#111" stroke-width="1.6" />
<text x="567.4" y="282.5" font-size="10.6" font-weight="bold" text-anchor="end" fill="#111" >60</text>
<line x1="569" y1="242.8" x2="575" y2="242.8" stroke="#111" stroke-width="1.6" />
<text x="567.4" y="246.2" font-size="10.6" font-weight="bold" text-anchor="end" fill="#111" >80</text>
<text x="545.6" y="315" font-size="13.6" font-weight="bold" text-anchor="middle" fill="#111" textLength="129.5" lengthAdjust="spacingAndGlyphs" transform="rotate(-90 545.6 315)" >Concentration (pg/mL)</text>
<line x1="601" y1="250.4" x2="650.8" y2="250.4" stroke="#111" stroke-width="2" />
<line x1="601" y1="244.8" x2="601" y2="257.4" stroke="#111" stroke-width="2" />
<line x1="650.8" y1="244.8" x2="650.8" y2="257.4" stroke="#111" stroke-width="2" />
<text x="625.5" y="250.8" font-size="16" font-weight="bold" text-anchor="middle" fill="#111" textLength="35" lengthAdjust="spacingAndGlyphs" >****</text>
<rect x="591.6" y="343.9" width="29" height="44.1" fill="#4d8fd6" stroke="#111" stroke-width="2" />
<line x1="606.1" y1="314.2" x2="606.1" y2="371.5" stroke="#555" stroke-width="1.1" />
<line x1="596.9" y1="314.2" x2="613.7" y2="314.2" stroke="#555" stroke-width="1.1" />
<line x1="598.5" y1="371.5" x2="613.7" y2="371.5" stroke="#555" stroke-width="1.1" />
<circle cx="605.8" cy="264.4" r="2.3" fill="#111"/>
<circle cx="606.1" cy="324.5" r="2.3" fill="#111"/>
<circle cx="606.1" cy="330.7" r="2.3" fill="#111"/>
<circle cx="596.1" cy="334.9" r="2.3" fill="#111"/>
<circle cx="606.1" cy="338.7" r="2.3" fill="#111"/>
<circle cx="596.1" cy="352.8" r="2.3" fill="#111"/>
<circle cx="615.8" cy="351.6" r="2.3" fill="#111"/>
<circle cx="606.1" cy="354.3" r="2.3" fill="#111"/>
<circle cx="596.1" cy="360.3" r="2.3" fill="#111"/>
<circle cx="606.1" cy="362.2" r="2.3" fill="#111"/>
<circle cx="600.9" cy="367" r="2.3" fill="#111"/>
<circle cx="610.6" cy="370.3" r="2.3" fill="#111"/>
<circle cx="606.1" cy="374.9" r="2.3" fill="#111"/>
<rect x="637" y="367.2" width="29.8" height="20.8" fill="#f27c7e" stroke="#111" stroke-width="2.2" />
<path d="M636 388 L636 366.5 L639.6 366.5 L639.6 360 L643.2 360 L643.2 352.7 L648.4 352.7 L648.4 340.5 L646 340.5 L646 335.3 L657.9 335.3 L657.9 340.5 L654.7 340.5 L654.7 352.7 L660.7 352.7 L660.7 360 L664.3 360 L664.3 366.5 L667.6 366.5 L667.6 388" fill="#111" stroke="none" stroke-width="0" />
<rect x="639" y="376" width="3" height="10" fill="#f27c7e" stroke="none" stroke-width="0" />
<rect x="659" y="378" width="5" height="8" fill="#f27c7e" stroke="none" stroke-width="0" />
<rect x="649.6" y="326.9" width="3.8" height="3.8" fill="#111"/>
<line x1="605.8" y1="388" x2="605.8" y2="393.5" stroke="#111" stroke-width="1.6" />
<line x1="650.8" y1="388" x2="650.8" y2="393.5" stroke="#111" stroke-width="1.6" />
<text x="605.8" y="405" font-size="11.3" font-weight="bold" text-anchor="middle" fill="#111" textLength="15.5" lengthAdjust="spacingAndGlyphs" >HP</text>
<text x="650.8" y="405" font-size="11.3" font-weight="bold" text-anchor="middle" fill="#111" textLength="22.5" lengthAdjust="spacingAndGlyphs" >LCP</text>
<text x="3.2" y="451.2" font-size="29.9" font-weight="normal" text-anchor="start" fill="#111" >F</text>
<text x="87.9" y="461.3" font-size="12.8" font-weight="bold" text-anchor="middle" fill="#111" textLength="30.6" lengthAdjust="spacingAndGlyphs" >IL-10</text>
<text x="85.2" y="480" font-size="12" font-weight="normal" text-anchor="middle" fill="#111" textLength="12" lengthAdjust="spacingAndGlyphs" >ns</text>
<line x1="40.5" y1="478.3" x2="40.5" y2="629.8" stroke="#111" stroke-width="1.6" />
<line x1="39.7" y1="629" x2="135.8" y2="629" stroke="#111" stroke-width="1.6" />
<line x1="34.5" y1="629" x2="40.5" y2="629" stroke="#111" stroke-width="1.6" />
<text x="32.9" y="632.4" font-size="10.6" font-weight="bold" text-anchor="end" fill="#111" >0</text>
<line x1="34.5" y1="579.03" x2="40.5" y2="579.03" stroke="#111" stroke-width="1.6" />
<text x="32.9" y="582.43" font-size="10.6" font-weight="bold" text-anchor="end" fill="#111" >10</text>
<line x1="34.5" y1="529.07" x2="40.5" y2="529.07" stroke="#111" stroke-width="1.6" />
<text x="32.9" y="532.47" font-size="10.6" font-weight="bold" text-anchor="end" fill="#111" >20</text>
<line x1="34.5" y1="479.1" x2="40.5" y2="479.1" stroke="#111" stroke-width="1.6" />
<text x="32.9" y="482.5" font-size="10.6" font-weight="bold" text-anchor="end" fill="#111" >30</text>
<text x="15" y="553" font-size="13.6" font-weight="bold" text-anchor="middle" fill="#111" textLength="131" lengthAdjust="spacingAndGlyphs" transform="rotate(-90 15 553)" >Concentration (pg/mL)</text>
<line x1="63.4" y1="486.6" x2="107" y2="486.6" stroke="#111" stroke-width="2" />
<line x1="63.4" y1="481.2" x2="63.4" y2="493.2" stroke="#111" stroke-width="2" />
<line x1="107" y1="481.2" x2="107" y2="493.2" stroke="#111" stroke-width="2" />
<rect x="54.4" y="604.4" width="26" height="24.6" fill="#4d8fd6" stroke="#111" stroke-width="2" />
<line x1="67.6" y1="590.4" x2="67.6" y2="618.4" stroke="#555" stroke-width="1.1" />
<line x1="61.2" y1="590.4" x2="74.5" y2="590.4" stroke="#555" stroke-width="1.1" />
<line x1="61.2" y1="618.4" x2="74.5" y2="618.4" stroke="#555" stroke-width="1.1" />
<circle cx="67.6" cy="575.5" r="2.25" fill="#111"/>
<circle cx="67.6" cy="584.8" r="2.25" fill="#111"/>
<circle cx="63.6" cy="589.9" r="2.25" fill="#111"/>
<circle cx="71.7" cy="591.5" r="2.25" fill="#111"/>
<circle cx="63.9" cy="601.8" r="2.25" fill="#111"/>
<circle cx="63.9" cy="607.8" r="2.25" fill="#111"/>
<circle cx="71.7" cy="607.8" r="2.25" fill="#111"/>
<circle cx="71.7" cy="619.7" r="2.25" fill="#111"/>
<circle cx="55.4" cy="611" r="2.25" fill="#111"/>
<circle cx="55.4" cy="622" r="2.25" fill="#111"/>
<circle cx="79" cy="611" r="2.25" fill="#111"/>
<circle cx="79" cy="616.5" r="2.25" fill="#111"/>
<rect x="95.6" y="601.2" width="26.2" height="27.8" fill="#111" stroke="#111" stroke-width="2" />
<rect x="97.4" y="602.9" width="6.6" height="4" fill="#f27c7e" stroke="none" stroke-width="0" />
<rect x="112.3" y="602.9" width="7.7" height="4" fill="#f27c7e" stroke="none" stroke-width="0" />
<rect x="97.4" y="611" width="2.2" height="10" fill="#f27c7e" stroke="none" stroke-width="0" />
<rect x="97.4" y="617.3" width="7.6" height="3.7" fill="#f27c7e" stroke="none" stroke-width="0" />
<rect x="117.8" y="611" width="2.2" height="10" fill="#f27c7e" stroke="none" stroke-width="0" />
<rect x="112.8" y="617.3" width="7.2" height="3.7" fill="#f27c7e" stroke="none" stroke-width="0" />
<line x1="108.6" y1="571.1" x2="108.6" y2="601" stroke="#555" stroke-width="1.1" />
<line x1="102.6" y1="571.1" x2="115.2" y2="571.1" stroke="#555" stroke-width="1.1" />
<rect x="106.8" y="500" width="3.6" height="3.6" fill="#111"/>
<rect x="106.8" y="515" width="3.6" height="3.6" fill="#111"/>
<rect x="106.8" y="520.5" width="3.6" height="3.6" fill="#111"/>
<rect x="106.8" y="537.8" width="3.6" height="3.6" fill="#111"/>
<rect x="106.8" y="542.5" width="3.6" height="3.6" fill="#111"/>
<rect x="106.8" y="560.6" width="3.6" height="3.6" fill="#111"/>
<rect x="106.8" y="565.4" width="3.6" height="3.6" fill="#111"/>
<rect x="106.8" y="570.1" width="3.6" height="3.6" fill="#111"/>
<rect x="106.8" y="575.6" width="3.6" height="3.6" fill="#111"/>
<rect x="106.8" y="581.2" width="3.6" height="3.6" fill="#111"/>
<rect x="106.8" y="584.2" width="3.6" height="3.6" fill="#111"/>
<rect x="104.6" y="550.3" width="3.8" height="3.8" fill="#111"/>
<rect x="108.6" y="550.3" width="3.8" height="3.8" fill="#111"/>
<rect x="101" y="592" width="15.8" height="6.7" fill="#111" stroke="none" stroke-width="0" />
<line x1="67.9" y1="629" x2="67.9" y2="634.5" stroke="#111" stroke-width="1.6" />
<line x1="108.4" y1="629" x2="108.4" y2="634.5" stroke="#111" stroke-width="1.6" />
<text x="67.9" y="647.8" font-size="11.3" font-weight="bold" text-anchor="middle" fill="#111" textLength="15.5" lengthAdjust="spacingAndGlyphs" >HP</text>
<text x="108.4" y="647.8" font-size="11.3" font-weight="bold" text-anchor="middle" fill="#111" textLength="22.5" lengthAdjust="spacingAndGlyphs" >LCP</text>
<text x="239.2" y="454.6" font-size="12.8" font-weight="bold" text-anchor="middle" fill="#111" textLength="22.6" lengthAdjust="spacingAndGlyphs" >IL-4</text>
<text x="236" y="474.8" font-size="12" font-weight="normal" text-anchor="middle" fill="#111" textLength="12" lengthAdjust="spacingAndGlyphs" >ns</text>
<line x1="193.1" y1="473.8" x2="193.1" y2="629" stroke="#111" stroke-width="1.6" />
<line x1="192.3" y1="628.2" x2="284.5" y2="628.2" stroke="#111" stroke-width="1.6" />
<line x1="187.1" y1="628.2" x2="193.1" y2="628.2" stroke="#111" stroke-width="1.6" />
<text x="185.5" y="631.6" font-size="10.6" font-weight="bold" text-anchor="end" fill="#111" >0</text>
<line x1="187.1" y1="589.8" x2="193.1" y2="589.8" stroke="#111" stroke-width="1.6" />
<text x="185.5" y="593.2" font-size="10.6" font-weight="bold" text-anchor="end" fill="#111" >5</text>
<line x1="187.1" y1="551.4" x2="193.1" y2="551.4" stroke="#111" stroke-width="1.6" />
<text x="185.5" y="554.8" font-size="10.6" font-weight="bold" text-anchor="end" fill="#111" >10</text>
<line x1="187.1" y1="513" x2="193.1" y2="513" stroke="#111" stroke-width="1.6" />
<text x="185.5" y="516.4" font-size="10.6" font-weight="bold" text-anchor="end" fill="#111" >15</text>
<line x1="187.1" y1="474.6" x2="193.1" y2="474.6" stroke="#111" stroke-width="1.6" />
<text x="185.5" y="478" font-size="10.6" font-weight="bold" text-anchor="end" fill="#111" >20</text>
<text x="167.4" y="550.5" font-size="13.6" font-weight="bold" text-anchor="middle" fill="#111" textLength="131" lengthAdjust="spacingAndGlyphs" transform="rotate(-90 167.4 550.5)" >Concentration (pg/mL)</text>
<line x1="215.2" y1="482.6" x2="257" y2="482.6" stroke="#111" stroke-width="2" />
<line x1="215.2" y1="476" x2="215.2" y2="488.7" stroke="#111" stroke-width="2" />
<line x1="257" y1="476" x2="257" y2="488.7" stroke="#111" stroke-width="2" />
<rect x="207.1" y="598" width="24.5" height="30.2" fill="#4d8fd6" stroke="#111" stroke-width="2" />
<line x1="219.2" y1="569.6" x2="219.2" y2="628.2" stroke="#333" stroke-width="1.1" />
<line x1="213.3" y1="569.6" x2="224.9" y2="569.6" stroke="#333" stroke-width="1.1" />
<circle cx="219.2" cy="546" r="2.2" fill="#111"/>
<circle cx="219.2" cy="558.9" r="2.2" fill="#111"/>
<circle cx="219.2" cy="568.8" r="2.2" fill="#111"/>
<circle cx="216" cy="580.2" r="2.2" fill="#111"/>
<circle cx="222.7" cy="580.2" r="2.2" fill="#111"/>
<circle cx="210.7" cy="598" r="2.2" fill="#111"/>
<circle cx="216" cy="598" r="2.2" fill="#111"/>
<circle cx="221.7" cy="598" r="2.2" fill="#111"/>
<circle cx="227.5" cy="598" r="2.2" fill="#111"/>
<circle cx="208" cy="627.7" r="2.2" fill="#111"/>
<circle cx="213.3" cy="627.7" r="2.2" fill="#111"/>
<circle cx="218.6" cy="627.7" r="2.2" fill="#111"/>
<circle cx="224" cy="627.7" r="2.2" fill="#111"/>
<circle cx="229.3" cy="627.7" r="2.2" fill="#111"/>
<rect x="246.5" y="580.8" width="24.2" height="47.4" fill="#f27c7e" stroke="#111" stroke-width="2" />
<line x1="258" y1="535" x2="258" y2="628" stroke="#111" stroke-width="1.2" />
<rect x="256.1" y="496.7" width="3.8" height="3.8" fill="#111"/>
<rect x="256.1" y="513.6" width="3.8" height="3.8" fill="#111"/>
<rect x="255.5" y="533" width="5" height="8" fill="#111" stroke="none" stroke-width="0" />
<rect x="253" y="545.5" width="10" height="4.5" fill="#111" stroke="none" stroke-width="0" />
<rect x="250" y="556" width="17.1" height="4.5" fill="#111" stroke="none" stroke-width="0" />
<rect x="250" y="566.5" width="17.1" height="4.5" fill="#111" stroke="none" stroke-width="0" />
<rect x="252.4" y="579.5" width="11.6" height="3" fill="#111" stroke="none" stroke-width="0" />
<rect x="256.1" y="586.4" width="3.8" height="3.8" fill="#111"/>
<rect x="248.8" y="596" width="19" height="4.5" fill="#111" stroke="none" stroke-width="0" />
<rect x="256.1" y="613.1" width="3.8" height="3.8" fill="#111"/>
<line x1="252.4" y1="612.3" x2="264" y2="612.3" stroke="#111" stroke-width="1.2" />
<rect x="246.5" y="625.5" width="24.2" height="4" fill="#111" stroke="none" stroke-width="0" />
<line x1="219.2" y1="628.2" x2="219.2" y2="633.7" stroke="#111" stroke-width="1.6" />
<line x1="257.8" y1="628.2" x2="257.8" y2="633.7" stroke="#111" stroke-width="1.6" />
<text x="219.2" y="647.8" font-size="11.3" font-weight="bold" text-anchor="middle" fill="#111" textLength="15.5" lengthAdjust="spacingAndGlyphs" >HP</text>
<text x="257.8" y="647.8" font-size="11.3" font-weight="bold" text-anchor="middle" fill="#111" textLength="22.5" lengthAdjust="spacingAndGlyphs" >LCP</text>
<text x="389.8" y="457.3" font-size="12.8" font-weight="bold" text-anchor="middle" fill="#111" textLength="21.3" lengthAdjust="spacingAndGlyphs" >IL-5</text>
<text x="386.6" y="477.4" font-size="12" font-weight="normal" text-anchor="middle" fill="#111" textLength="12" lengthAdjust="spacingAndGlyphs" >ns</text>
<line x1="343.2" y1="475.9" x2="343.2" y2="629.3" stroke="#111" stroke-width="1.6" />
<line x1="342.4" y1="628.5" x2="435.9" y2="628.5" stroke="#111" stroke-width="1.6" />
<line x1="337.2" y1="628.5" x2="343.2" y2="628.5" stroke="#111" stroke-width="1.6" />
<text x="335.6" y="631.9" font-size="10.6" font-weight="bold" text-anchor="end" fill="#111" >0</text>
<line x1="337.2" y1="590.55" x2="343.2" y2="590.55" stroke="#111" stroke-width="1.6" />
<text x="335.6" y="593.95" font-size="10.6" font-weight="bold" text-anchor="end" fill="#111" >200</text>
<line x1="337.2" y1="552.6" x2="343.2" y2="552.6" stroke="#111" stroke-width="1.6" />
<text x="335.6" y="556" font-size="10.6" font-weight="bold" text-anchor="end" fill="#111" >400</text>
<line x1="337.2" y1="514.65" x2="343.2" y2="514.65" stroke="#111" stroke-width="1.6" />
<text x="335.6" y="518.05" font-size="10.6" font-weight="bold" text-anchor="end" fill="#111" >600</text>
<line x1="337.2" y1="476.7" x2="343.2" y2="476.7" stroke="#111" stroke-width="1.6" />
<text x="335.6" y="480.1" font-size="10.6" font-weight="bold" text-anchor="end" fill="#111" >800</text>
<text x="312.5" y="551" font-size="13.6" font-weight="bold" text-anchor="middle" fill="#111" textLength="131" lengthAdjust="spacingAndGlyphs" transform="rotate(-90 312.5 551)" >Concentration (pg/mL)</text>
<line x1="365.3" y1="484.7" x2="408.5" y2="484.7" stroke="#111" stroke-width="2" />
<line x1="365.3" y1="478.6" x2="365.3" y2="491.4" stroke="#111" stroke-width="2" />
<line x1="408.5" y1="478.6" x2="408.5" y2="491.4" stroke="#111" stroke-width="2" />
<line x1="369.5" y1="590.6" x2="369.5" y2="620.5" stroke="#555" stroke-width="1.1" />
<line x1="363" y1="590.6" x2="376" y2="590.6" stroke="#555" stroke-width="1.1" />
<circle cx="369.3" cy="518.5" r="2.4" fill="#111"/>
<rect x="357.6" y="620.8" width="24.4" height="7.7" fill="#4f86c6" stroke="#1a2540" stroke-width="1.6" />
<circle cx="361" cy="626" r="1.8" fill="#1a2540"/>
<circle cx="366" cy="626" r="1.8" fill="#1a2540"/>
<circle cx="372" cy="626.5" r="1.8" fill="#1a2540"/>
<circle cx="378" cy="626" r="1.8" fill="#1a2540"/>
<circle cx="364" cy="622.5" r="1.8" fill="#1a2540"/>
<path d="M396.5 628.5 L396.5 624 L401 624 L401 622.5 L405 622.5 L405 620.3 L414 620.3 L414 623 L419 623 L419 624.5 L422.3 624.5 L422.3 629.5 L396.5 629.5" fill="#111" stroke="none" stroke-width="0" />
<rect x="407.5" y="600.6" width="3.9" height="9" fill="#111" stroke="none" stroke-width="0" />
<line x1="403" y1="620.3" x2="415.6" y2="620.3" stroke="#444" stroke-width="1.1" />
<line x1="409.4" y1="609" x2="409.4" y2="621" stroke="#111" stroke-width="1.2" />
<line x1="369.3" y1="628.5" x2="369.3" y2="634" stroke="#111" stroke-width="1.6" />
<line x1="409" y1="628.5" x2="409" y2="634" stroke="#111" stroke-width="1.6" />
<text x="369.3" y="647.8" font-size="11.3" font-weight="bold" text-anchor="middle" fill="#111" textLength="15.5" lengthAdjust="spacingAndGlyphs" >HP</text>
<text x="409" y="647.8" font-size="11.3" font-weight="bold" text-anchor="middle" fill="#111" textLength="22.5" lengthAdjust="spacingAndGlyphs" >LCP</text>
<text x="446.5" y="459.8" font-size="31" font-weight="normal" text-anchor="start" fill="#111" >G</text>
<text x="548.5" y="466" font-size="12.8" font-weight="bold" text-anchor="middle" fill="#111" textLength="20" lengthAdjust="spacingAndGlyphs" >IL-6</text>
<text x="545.7" y="485.3" font-size="12" font-weight="normal" text-anchor="middle" fill="#111" textLength="12" lengthAdjust="spacingAndGlyphs" >ns</text>
<line x1="506.6" y1="483.6" x2="506.6" y2="625.8" stroke="#111" stroke-width="1.6" />
<line x1="505.8" y1="625" x2="587.8" y2="625" stroke="#111" stroke-width="1.6" />
<line x1="501.1" y1="625" x2="506.6" y2="625" stroke="#111" stroke-width="1.6" />
<text x="499.5" y="628.4" font-size="9.4" font-weight="bold" text-anchor="end" fill="#111" >0</text>
<line x1="501.1" y1="596.88" x2="506.6" y2="596.88" stroke="#111" stroke-width="1.6" />
<text x="499.5" y="600.28" font-size="9.4" font-weight="bold" text-anchor="end" fill="#111" >20000</text>
<line x1="501.1" y1="568.76" x2="506.6" y2="568.76" stroke="#111" stroke-width="1.6" />
<text x="499.5" y="572.16" font-size="9.4" font-weight="bold" text-anchor="end" fill="#111" >40000</text>
<line x1="501.1" y1="540.64" x2="506.6" y2="540.64" stroke="#111" stroke-width="1.6" />
<text x="499.5" y="544.04" font-size="9.4" font-weight="bold" text-anchor="end" fill="#111" >60000</text>
<line x1="501.1" y1="512.52" x2="506.6" y2="512.52" stroke="#111" stroke-width="1.6" />
<text x="499.5" y="515.92" font-size="9.4" font-weight="bold" text-anchor="end" fill="#111" >80000</text>
<line x1="501.1" y1="484.4" x2="506.6" y2="484.4" stroke="#111" stroke-width="1.6" />
<text x="499.5" y="487.8" font-size="9.4" font-weight="bold" text-anchor="end" fill="#111" >100000</text>
<text x="466" y="554.4" font-size="12.8" font-weight="bold" text-anchor="middle" fill="#111" textLength="126" lengthAdjust="spacingAndGlyphs" transform="rotate(-90 466 554.4)" >Concentration (pg/mL)</text>
<line x1="527.9" y1="491.9" x2="565.1" y2="491.9" stroke="#111" stroke-width="2" />
<line x1="527.9" y1="486.6" x2="527.9" y2="497.2" stroke="#111" stroke-width="2" />
<line x1="565.1" y1="486.6" x2="565.1" y2="497.2" stroke="#111" stroke-width="2" />
<circle cx="521.4" cy="616.6" r="2.3" fill="#111"/>
<path d="M519.8 625.5 L519.8 621 L525 621 L526.5 618.5 L529.5 618.5 L531 621 L542.6 621 L542.6 625.5" fill="#111" stroke="none" stroke-width="0" />
<rect x="554.5" y="619.3" width="22.3" height="7.6" fill="#111" stroke="none" stroke-width="0" />
<rect x="563.7" y="602.5" width="4.9" height="16.8" fill="#111" stroke="none" stroke-width="0" />
<line x1="560.2" y1="602.5" x2="571.3" y2="602.5" stroke="#111" stroke-width="1.2" />
<rect x="563.15" y="506.45" width="3.9" height="3.9" fill="#111"/>
<rect x="563.75" y="557.05" width="3.9" height="3.9" fill="#111"/>
<line x1="531.3" y1="625" x2="531.3" y2="630.5" stroke="#111" stroke-width="1.6" />
<line x1="565.1" y1="625" x2="565.1" y2="630.5" stroke="#111" stroke-width="1.6" />
<text x="531.3" y="645" font-size="10.2" font-weight="bold" text-anchor="middle" fill="#111" textLength="12.5" lengthAdjust="spacingAndGlyphs" >HP</text>
<text x="565.1" y="645" font-size="10.2" font-weight="bold" text-anchor="middle" fill="#111" textLength="18.5" lengthAdjust="spacingAndGlyphs" >LCP</text>
<text x="687.2" y="465.2" font-size="12.6" font-weight="normal" text-anchor="middle" fill="#111" textLength="21" lengthAdjust="spacingAndGlyphs" stroke="#111" stroke-width="0.45">IL-8</text>
<text x="684.8" y="489.6" font-size="16" font-weight="bold" text-anchor="middle" fill="#111" textLength="14" lengthAdjust="spacingAndGlyphs" >**</text>
<line x1="643.6" y1="482.5" x2="643.6" y2="625.2" stroke="#111" stroke-width="1.6" />
<line x1="642.8" y1="624.4" x2="730.1" y2="624.4" stroke="#111" stroke-width="1.6" />
<line x1="638.6" y1="624.4" x2="643.6" y2="624.4" stroke="#111" stroke-width="1.6" />
<text x="637" y="627.8" font-size="9.8" font-weight="bold" text-anchor="end" fill="#111" >0</text>
<line x1="638.6" y1="596.18" x2="643.6" y2="596.18" stroke="#111" stroke-width="1.6" />
<text x="637" y="599.58" font-size="9.8" font-weight="bold" text-anchor="end" fill="#111" >500</text>
<line x1="638.6" y1="567.96" x2="643.6" y2="567.96" stroke="#111" stroke-width="1.6" />
<text x="637" y="571.36" font-size="9.8" font-weight="bold" text-anchor="end" fill="#111" >1000</text>
<line x1="638.6" y1="539.74" x2="643.6" y2="539.74" stroke="#111" stroke-width="1.6" />
<text x="637" y="543.14" font-size="9.8" font-weight="bold" text-anchor="end" fill="#111" >1500</text>
<line x1="638.6" y1="511.52" x2="643.6" y2="511.52" stroke="#111" stroke-width="1.6" />
<text x="637" y="514.92" font-size="9.8" font-weight="bold" text-anchor="end" fill="#111" >2000</text>
<line x1="638.6" y1="483.3" x2="643.6" y2="483.3" stroke="#111" stroke-width="1.6" />
<text x="637" y="486.7" font-size="9.8" font-weight="bold" text-anchor="end" fill="#111" >2500</text>
<text x="610" y="553" font-size="12.8" font-weight="bold" text-anchor="middle" fill="#111" textLength="126" lengthAdjust="spacingAndGlyphs" transform="rotate(-90 610 553)" >Concentration (pg/mL)</text>
<line x1="664.9" y1="490.5" x2="704.8" y2="490.5" stroke="#111" stroke-width="2" />
<line x1="664.9" y1="483.9" x2="664.9" y2="496.7" stroke="#111" stroke-width="2" />
<line x1="704.8" y1="483.9" x2="704.8" y2="496.7" stroke="#111" stroke-width="2" />
<circle cx="668.6" cy="614.2" r="2.3" fill="#111"/>
<path d="M657 624.4 L657 620 L661 618 L672 618 L675 619.5 L680.3 620 L680.3 624.4" fill="#111" stroke="none" stroke-width="0" />
<rect x="694.7" y="596.5" width="22.9" height="27.9" fill="#f27c7e" stroke="#111" stroke-width="2" />
<rect x="694.7" y="615.7" width="22.9" height="9.3" fill="#111" stroke="none" stroke-width="0" />
<rect x="703.5" y="588" width="5" height="36" fill="#111" stroke="none" stroke-width="0" />
<rect x="704.1" y="511.3" width="3.8" height="3.8" fill="#111"/>
<rect x="704.1" y="538.1" width="3.8" height="3.8" fill="#111"/>
<rect x="704.1" y="545.1" width="3.8" height="3.8" fill="#111"/>
<rect x="704.1" y="551.6" width="3.8" height="3.8" fill="#111"/>
<rect x="704.1" y="557.1" width="3.8" height="3.8" fill="#111"/>
<rect x="704.1" y="564.1" width="3.8" height="3.8" fill="#111"/>
<rect x="703.2" y="518.6" width="5.8" height="12.4" fill="#111" stroke="none" stroke-width="0" />
<rect x="703.6" y="571" width="4.8" height="14" fill="#111" stroke="none" stroke-width="0" />
<rect x="701.5" y="587" width="9" height="9" fill="#111" stroke="none" stroke-width="0" />
<line x1="700" y1="562.1" x2="712.1" y2="562.1" stroke="#111" stroke-width="1.2" />
<line x1="668.3" y1="624.4" x2="668.3" y2="629.9" stroke="#111" stroke-width="1.6" />
<line x1="706.1" y1="624.4" x2="706.1" y2="629.9" stroke="#111" stroke-width="1.6" />
<text x="668.3" y="642.4" font-size="10.2" font-weight="bold" text-anchor="middle" fill="#111" textLength="12.5" lengthAdjust="spacingAndGlyphs" >HP</text>
<text x="706.1" y="642.4" font-size="10.2" font-weight="bold" text-anchor="middle" fill="#111" textLength="18.5" lengthAdjust="spacingAndGlyphs" >LCP</text>
<text x="1.9" y="711.9" font-size="31.5" font-weight="normal" text-anchor="start" fill="#111" >H</text>
<text x="57" y="717.8" font-size="13.8" font-weight="bold" text-anchor="start" fill="#111" textLength="32" lengthAdjust="spacingAndGlyphs" >TNF-</text>
<text x="89.6" y="717.8" font-size="14.3" font-weight="normal" text-anchor="start" fill="#111" textLength="10.5" lengthAdjust="spacingAndGlyphs" >α</text>
<text x="100.7" y="717.8" font-size="13.8" font-weight="bold" text-anchor="start" fill="#111" textLength="31" lengthAdjust="spacingAndGlyphs" >/IL-10</text>
<line x1="52.9" y1="735.2" x2="52.9" y2="881.5" stroke="#111" stroke-width="1.6" />
<line x1="52.1" y1="880.7" x2="136.9" y2="880.7" stroke="#111" stroke-width="1.6" />
<line x1="46.9" y1="880.28" x2="52.9" y2="880.28" stroke="#111" stroke-width="1.6" />
<text x="45.3" y="883.68" font-size="10.4" font-weight="bold" text-anchor="end" fill="#111" >-4</text>
<line x1="46.9" y1="851.34" x2="52.9" y2="851.34" stroke="#111" stroke-width="1.6" />
<text x="45.3" y="854.74" font-size="10.4" font-weight="bold" text-anchor="end" fill="#111" >-2</text>
<line x1="46.9" y1="822.4" x2="52.9" y2="822.4" stroke="#111" stroke-width="1.6" />
<text x="45.3" y="825.8" font-size="10.4" font-weight="bold" text-anchor="end" fill="#111" >0</text>
<line x1="46.9" y1="793.46" x2="52.9" y2="793.46" stroke="#111" stroke-width="1.6" />
<text x="45.3" y="796.86" font-size="10.4" font-weight="bold" text-anchor="end" fill="#111" >2</text>
<line x1="46.9" y1="764.52" x2="52.9" y2="764.52" stroke="#111" stroke-width="1.6" />
<text x="45.3" y="767.92" font-size="10.4" font-weight="bold" text-anchor="end" fill="#111" >4</text>
<line x1="46.9" y1="735.58" x2="52.9" y2="735.58" stroke="#111" stroke-width="1.6" />
<text x="45.3" y="738.98" font-size="10.4" font-weight="bold" text-anchor="end" fill="#111" >6</text>
<line x1="52.9" y1="822.4" x2="142.3" y2="822.4" stroke="#444" stroke-width="1.3" stroke-dasharray="1.6,1.9"/>
<text x="28.5" y="806.3" font-size="13.2" font-weight="bold" text-anchor="middle" fill="#111" transform="rotate(-90 28.5 806.3)" textLength="134" lengthAdjust="spacingAndGlyphs">Log<tspan font-size="9.50" dy="2.5">2</tspan><tspan dy="-2.5">(normalized ratio)</tspan></text>
<line x1="79.7" y1="745.4" x2="115.4" y2="745.4" stroke="#111" stroke-width="2" />
<line x1="79.7" y1="737.9" x2="79.7" y2="750" stroke="#111" stroke-width="2" />
<line x1="115.4" y1="737.9" x2="115.4" y2="750" stroke="#111" stroke-width="2" />
<text x="97.2" y="744" font-size="16" font-weight="bold" text-anchor="middle" fill="#111" >*</text>
<line x1="78.25" y1="770" x2="78.25" y2="772.8" stroke="#111" stroke-width="2" />
<line x1="78.25" y1="809" x2="78.25" y2="821.1" stroke="#111" stroke-width="2" />
<line x1="73.8" y1="770" x2="84.6" y2="770" stroke="#111" stroke-width="2.2" />
<line x1="73.8" y1="821.1" x2="84.6" y2="821.1" stroke="#111" stroke-width="2.2" />
<rect x="66.6" y="772.8" width="23.3" height="36.2" fill="#4d8fd6" stroke="#111" stroke-width="2.2" />
<line x1="66.6" y1="792.1" x2="89.9" y2="792.1" stroke="#111" stroke-width="2.4" />
<line x1="116.1" y1="766.8" x2="116.1" y2="795.6" stroke="#111" stroke-width="2" />
<line x1="116.1" y1="818.4" x2="116.1" y2="860.8" stroke="#111" stroke-width="2" />
<line x1="111.4" y1="766.8" x2="122.1" y2="766.8" stroke="#111" stroke-width="2.2" />
<line x1="111.4" y1="860.8" x2="122.1" y2="860.8" stroke="#111" stroke-width="2.2" />
<rect x="104.7" y="795.6" width="22.8" height="22.8" fill="#f27c7e" stroke="#111" stroke-width="2.2" />
<line x1="104.7" y1="804.4" x2="127.5" y2="804.4" stroke="#111" stroke-width="2.4" />
<line x1="79.2" y1="880.7" x2="79.2" y2="886.2" stroke="#111" stroke-width="1.6" />
<line x1="116" y1="880.7" x2="116" y2="886.2" stroke="#111" stroke-width="1.6" />
<text x="79.2" y="899.8" font-size="11.3" font-weight="bold" text-anchor="middle" fill="#111" textLength="15.5" lengthAdjust="spacingAndGlyphs" >HP</text>
<text x="116" y="899.8" font-size="11.3" font-weight="bold" text-anchor="middle" fill="#111" textLength="22.5" lengthAdjust="spacingAndGlyphs" >LCP</text>
<text x="212" y="717.8" font-size="13.8" font-weight="bold" text-anchor="start" fill="#111" textLength="31" lengthAdjust="spacingAndGlyphs" >TNF-</text>
<text x="243.6" y="717.8" font-size="14.3" font-weight="normal" text-anchor="start" fill="#111" textLength="10" lengthAdjust="spacingAndGlyphs" >α</text>
<text x="254.2" y="717.8" font-size="13.8" font-weight="bold" text-anchor="start" fill="#111" textLength="22" lengthAdjust="spacingAndGlyphs" >/IL-5</text>
<line x1="205.6" y1="734.4" x2="205.6" y2="880.4" stroke="#111" stroke-width="1.6" />
<line x1="204.8" y1="879.6" x2="291" y2="879.6" stroke="#111" stroke-width="1.6" />
<line x1="199.6" y1="879.3" x2="205.6" y2="879.3" stroke="#111" stroke-width="1.6" />
<text x="198" y="882.7" font-size="10.4" font-weight="bold" text-anchor="end" fill="#111" >-10</text>
<line x1="199.6" y1="843.2" x2="205.6" y2="843.2" stroke="#111" stroke-width="1.6" />
<text x="198" y="846.6" font-size="10.4" font-weight="bold" text-anchor="end" fill="#111" >-5</text>
<line x1="199.6" y1="807.1" x2="205.6" y2="807.1" stroke="#111" stroke-width="1.6" />
<text x="198" y="810.5" font-size="10.4" font-weight="bold" text-anchor="end" fill="#111" >0</text>
<line x1="199.6" y1="771" x2="205.6" y2="771" stroke="#111" stroke-width="1.6" />
<text x="198" y="774.4" font-size="10.4" font-weight="bold" text-anchor="end" fill="#111" >5</text>
<line x1="199.6" y1="734.9" x2="205.6" y2="734.9" stroke="#111" stroke-width="1.6" />
<text x="198" y="738.3" font-size="10.4" font-weight="bold" text-anchor="end" fill="#111" >10</text>
<line x1="205.6" y1="807.1" x2="291" y2="807.1" stroke="#444" stroke-width="1.3" stroke-dasharray="1.6,1.9"/>
<text x="175.6" y="806.3" font-size="13.2" font-weight="bold" text-anchor="middle" fill="#111" transform="rotate(-90 175.6 806.3)" textLength="134" lengthAdjust="spacingAndGlyphs">Log<tspan font-size="9.50" dy="2.5">2</tspan><tspan dy="-2.5">(normalized ratio)</tspan></text>
<line x1="229.2" y1="747.2" x2="266.8" y2="747.2" stroke="#111" stroke-width="2" />
<line x1="229.2" y1="740.5" x2="229.2" y2="754" stroke="#111" stroke-width="2" />
<line x1="266.8" y1="740.5" x2="266.8" y2="754" stroke="#111" stroke-width="2" />
<text x="248" y="746.6" font-size="16" font-weight="bold" text-anchor="middle" fill="#111" >*</text>
<line x1="229.9" y1="772.2" x2="229.9" y2="778.1" stroke="#111" stroke-width="2" />
<line x1="229.9" y1="796.9" x2="229.9" y2="829.7" stroke="#111" stroke-width="2" />
<line x1="223.8" y1="772.2" x2="235.4" y2="772.2" stroke="#111" stroke-width="2.2" />
<line x1="223.8" y1="829.7" x2="235.4" y2="829.7" stroke="#111" stroke-width="2.2" />
<rect x="218.5" y="778.1" width="22.8" height="18.8" fill="#4d8fd6" stroke="#111" stroke-width="2.2" />
<line x1="218.5" y1="782.1" x2="241.3" y2="782.1" stroke="#111" stroke-width="2.4" />
<line x1="266.5" y1="777.3" x2="266.5" y2="786.2" stroke="#111" stroke-width="2" />
<line x1="266.5" y1="807.1" x2="266.5" y2="858.1" stroke="#111" stroke-width="2" />
<line x1="261.4" y1="777.3" x2="272.1" y2="777.3" stroke="#111" stroke-width="2.2" />
<line x1="261.4" y1="858.1" x2="272.1" y2="858.1" stroke="#111" stroke-width="2.2" />
<rect x="255.5" y="786.2" width="22" height="20.9" fill="#f27c7e" stroke="#111" stroke-width="2.2" />
<line x1="255.5" y1="795.6" x2="277.5" y2="795.6" stroke="#111" stroke-width="2.4" />
<line x1="229.2" y1="879.6" x2="229.2" y2="885.1" stroke="#111" stroke-width="1.6" />
<line x1="266" y1="879.6" x2="266" y2="885.1" stroke="#111" stroke-width="1.6" />
<text x="229.2" y="899.8" font-size="11.3" font-weight="bold" text-anchor="middle" fill="#111" textLength="15.5" lengthAdjust="spacingAndGlyphs" >HP</text>
<text x="266" y="899.8" font-size="11.3" font-weight="bold" text-anchor="middle" fill="#111" textLength="22.5" lengthAdjust="spacingAndGlyphs" >LCP</text>
<text x="367" y="713" font-size="13.8" font-weight="bold" text-anchor="start" fill="#111" textLength="31" lengthAdjust="spacingAndGlyphs" >TNF-</text>
<text x="398.6" y="713" font-size="14.3" font-weight="normal" text-anchor="start" fill="#111" textLength="10" lengthAdjust="spacingAndGlyphs" >α</text>
<text x="409.2" y="713" font-size="13.8" font-weight="bold" text-anchor="start" fill="#111" textLength="25" lengthAdjust="spacingAndGlyphs" >/IL-4</text>
<line x1="359.6" y1="732.5" x2="359.6" y2="881.8" stroke="#111" stroke-width="1.6" />
<line x1="358.8" y1="881" x2="448.2" y2="881" stroke="#111" stroke-width="1.6" />
<line x1="353.6" y1="880.98" x2="359.6" y2="880.98" stroke="#111" stroke-width="1.6" />
<text x="352" y="884.38" font-size="10.4" font-weight="bold" text-anchor="end" fill="#111" >-4</text>
<line x1="353.6" y1="851.44" x2="359.6" y2="851.44" stroke="#111" stroke-width="1.6" />
<text x="352" y="854.84" font-size="10.4" font-weight="bold" text-anchor="end" fill="#111" >-2</text>
<line x1="353.6" y1="821.9" x2="359.6" y2="821.9" stroke="#111" stroke-width="1.6" />
<text x="352" y="825.3" font-size="10.4" font-weight="bold" text-anchor="end" fill="#111" >0</text>
<line x1="353.6" y1="792.36" x2="359.6" y2="792.36" stroke="#111" stroke-width="1.6" />
<text x="352" y="795.76" font-size="10.4" font-weight="bold" text-anchor="end" fill="#111" >2</text>
<line x1="353.6" y1="762.82" x2="359.6" y2="762.82" stroke="#111" stroke-width="1.6" />
<text x="352" y="766.22" font-size="10.4" font-weight="bold" text-anchor="end" fill="#111" >4</text>
<line x1="353.6" y1="733.28" x2="359.6" y2="733.28" stroke="#111" stroke-width="1.6" />
<text x="352" y="736.68" font-size="10.4" font-weight="bold" text-anchor="end" fill="#111" >6</text>
<line x1="359.6" y1="821.9" x2="448.2" y2="821.9" stroke="#444" stroke-width="1.3" stroke-dasharray="1.6,1.9"/>
<text x="335.5" y="806.3" font-size="13.2" font-weight="bold" text-anchor="middle" fill="#111" transform="rotate(-90 335.5 806.3)" textLength="134" lengthAdjust="spacingAndGlyphs">Log<tspan font-size="9.50" dy="2.5">2</tspan><tspan dy="-2.5">(normalized ratio)</tspan></text>
<line x1="384.6" y1="729.3" x2="422.1" y2="729.3" stroke="#111" stroke-width="2" />
<line x1="384.6" y1="724.4" x2="384.6" y2="736.5" stroke="#111" stroke-width="2" />
<line x1="422.1" y1="724.4" x2="422.1" y2="736.5" stroke="#111" stroke-width="2" />
<text x="402.7" y="729" font-size="16" font-weight="bold" text-anchor="middle" fill="#111" textLength="15" lengthAdjust="spacingAndGlyphs" >**</text>
<line x1="384.8" y1="743.2" x2="384.8" y2="759.3" stroke="#111" stroke-width="2" />
<line x1="384.8" y1="810.9" x2="384.8" y2="818.9" stroke="#111" stroke-width="2" />
<line x1="379.2" y1="743.2" x2="390" y2="743.2" stroke="#111" stroke-width="2.2" />
<line x1="379.2" y1="818.9" x2="390" y2="818.9" stroke="#111" stroke-width="2.2" />
<rect x="373" y="759.3" width="23.6" height="51.6" fill="#4d8fd6" stroke="#111" stroke-width="2.2" />
<line x1="373" y1="784.3" x2="396.6" y2="784.3" stroke="#111" stroke-width="2.4" />
<line x1="422.55" y1="751.8" x2="422.55" y2="794.2" stroke="#111" stroke-width="2" />
<line x1="422.55" y1="821.9" x2="422.55" y2="870.7" stroke="#111" stroke-width="2" />
<line x1="416.8" y1="751.8" x2="428.3" y2="751.8" stroke="#111" stroke-width="2.2" />
<line x1="416.8" y1="870.7" x2="428.3" y2="870.7" stroke="#111" stroke-width="2.2" />
<rect x="410.9" y="794.2" width="23.3" height="27.7" fill="#f27c7e" stroke="#111" stroke-width="2.2" />
<line x1="410.9" y1="811.7" x2="434.2" y2="811.7" stroke="#111" stroke-width="2.4" />
<line x1="384" y1="881" x2="384" y2="886.5" stroke="#111" stroke-width="1.6" />
<line x1="422.1" y1="881" x2="422.1" y2="886.5" stroke="#111" stroke-width="1.6" />
<text x="384" y="899.8" font-size="11.3" font-weight="bold" text-anchor="middle" fill="#111" textLength="15.5" lengthAdjust="spacingAndGlyphs" >HP</text>
<text x="422.1" y="899.8" font-size="11.3" font-weight="bold" text-anchor="middle" fill="#111" textLength="22.5" lengthAdjust="spacingAndGlyphs" >LCP</text>
<text x="463.6" y="711.9" font-size="31.5" font-weight="normal" text-anchor="start" fill="#111" >I</text>
<text x="558.5" y="714" font-size="13.2" font-weight="bold" text-anchor="start" fill="#111" textLength="30.5" lengthAdjust="spacingAndGlyphs" >TNF-</text>
<text x="589.6" y="714" font-size="13.7" font-weight="normal" text-anchor="start" fill="#111" textLength="10" lengthAdjust="spacingAndGlyphs" >α</text>
<text x="600.2" y="714" font-size="13.2" font-weight="bold" text-anchor="start" fill="#111" textLength="26" lengthAdjust="spacingAndGlyphs" >/IL-10</text>
<line x1="509.3" y1="730" x2="509.3" y2="864.4" stroke="#111" stroke-width="1.6" />
<line x1="508.5" y1="863.6" x2="687" y2="863.6" stroke="#111" stroke-width="1.6" />
<line x1="503.8" y1="863.6" x2="509.3" y2="863.6" stroke="#111" stroke-width="1.2" />
<line x1="506.7" y1="857.57" x2="509.3" y2="857.57" stroke="#111" stroke-width="1.2" />
<line x1="506.7" y1="851.54" x2="509.3" y2="851.54" stroke="#111" stroke-width="1.2" />
<line x1="506.7" y1="845.51" x2="509.3" y2="845.51" stroke="#111" stroke-width="1.2" />
<line x1="506.7" y1="839.48" x2="509.3" y2="839.48" stroke="#111" stroke-width="1.2" />
<line x1="506.7" y1="833.45" x2="509.3" y2="833.45" stroke="#111" stroke-width="1.2" />
<line x1="506.7" y1="827.42" x2="509.3" y2="827.42" stroke="#111" stroke-width="1.2" />
<line x1="506.7" y1="821.39" x2="509.3" y2="821.39" stroke="#111" stroke-width="1.2" />
<line x1="506.7" y1="815.36" x2="509.3" y2="815.36" stroke="#111" stroke-width="1.2" />
<line x1="506.7" y1="809.33" x2="509.3" y2="809.33" stroke="#111" stroke-width="1.2" />
<line x1="503.8" y1="803.3" x2="509.3" y2="803.3" stroke="#111" stroke-width="1.2" />
<line x1="506.7" y1="797.27" x2="509.3" y2="797.27" stroke="#111" stroke-width="1.2" />
<line x1="506.7" y1="791.24" x2="509.3" y2="791.24" stroke="#111" stroke-width="1.2" />
<line x1="506.7" y1="785.21" x2="509.3" y2="785.21" stroke="#111" stroke-width="1.2" />
<line x1="506.7" y1="779.18" x2="509.3" y2="779.18" stroke="#111" stroke-width="1.2" />
<line x1="506.7" y1="773.15" x2="509.3" y2="773.15" stroke="#111" stroke-width="1.2" />
<line x1="506.7" y1="767.12" x2="509.3" y2="767.12" stroke="#111" stroke-width="1.2" />
<line x1="506.7" y1="761.09" x2="509.3" y2="761.09" stroke="#111" stroke-width="1.2" />
<line x1="506.7" y1="755.06" x2="509.3" y2="755.06" stroke="#111" stroke-width="1.2" />
<line x1="506.7" y1="749.03" x2="509.3" y2="749.03" stroke="#111" stroke-width="1.2" />
<line x1="503.8" y1="743" x2="509.3" y2="743" stroke="#111" stroke-width="1.2" />
<line x1="506.7" y1="736.97" x2="509.3" y2="736.97" stroke="#111" stroke-width="1.2" />
<line x1="506.7" y1="730.94" x2="509.3" y2="730.94" stroke="#111" stroke-width="1.2" />
<line x1="509.3" y1="863.6" x2="509.3" y2="869.1" stroke="#111" stroke-width="1.4" />
<text x="509.3" y="880.8" font-size="9.6" font-weight="bold" text-anchor="middle" fill="#111" textLength="4.75" lengthAdjust="spacingAndGlyphs" >0</text>
<line x1="553.6" y1="863.6" x2="553.6" y2="869.1" stroke="#111" stroke-width="1.4" />
<text x="553.6" y="880.8" font-size="9.6" font-weight="bold" text-anchor="middle" fill="#111" textLength="14.25" lengthAdjust="spacingAndGlyphs" >500</text>
<line x1="597.9" y1="863.6" x2="597.9" y2="869.1" stroke="#111" stroke-width="1.4" />
<text x="597.9" y="880.8" font-size="9.6" font-weight="bold" text-anchor="middle" fill="#111" textLength="19" lengthAdjust="spacingAndGlyphs" >1000</text>
<line x1="642.2" y1="863.6" x2="642.2" y2="869.1" stroke="#111" stroke-width="1.4" />
<text x="642.2" y="880.8" font-size="9.6" font-weight="bold" text-anchor="middle" fill="#111" textLength="19" lengthAdjust="spacingAndGlyphs" >1500</text>
<line x1="686.5" y1="863.6" x2="686.5" y2="869.1" stroke="#111" stroke-width="1.4" />
<text x="686.5" y="880.8" font-size="9.6" font-weight="bold" text-anchor="middle" fill="#111" textLength="19" lengthAdjust="spacingAndGlyphs" >2000</text>
<text x="502.1" y="866.9" font-size="9.6" font-weight="bold" text-anchor="end" fill="#111" textLength="4" lengthAdjust="spacingAndGlyphs" >0</text>
<text x="502.1" y="806.6" font-size="9.6" font-weight="bold" text-anchor="end" fill="#111" textLength="8" lengthAdjust="spacingAndGlyphs" >50</text>
<text x="502.1" y="746.3" font-size="9.6" font-weight="bold" text-anchor="end" fill="#111" textLength="12" lengthAdjust="spacingAndGlyphs" >100</text>
<text x="597.6" y="896" font-size="11.5" font-weight="bold" text-anchor="middle" fill="#111" textLength="21.6" lengthAdjust="spacingAndGlyphs" >days</text>
<defs><clipPath id="ylabclip"><rect x="478.8" y="720" width="30" height="150"/></clipPath></defs>
<g clip-path="url(#ylabclip)">
<text x="483.2" y="797" font-size="11.5" font-weight="bold" text-anchor="middle" fill="#111" textLength="113" lengthAdjust="spacingAndGlyphs" transform="rotate(-90 483.2 797)" >Probability of Survival</text>
</g>
<path d="M509.77 740.58 L509.77 742.7 L510.58 742.7 L510.58 745.47 L511.4 745.47 L511.4 747.91 L512.21 747.91 L512.21 750.35 L513.03 750.35 L513.03 752.79 L513.84 752.79 L513.84 755.24 L514.65 755.24 L514.65 758.49 L515.47 758.49 L515.47 760.93 L516.28 760.93 L516.28 763.38 L519.54 763.38 L519.54 765 L521.98 765 L521.98 768.26 L522.79 768.26 L522.79 771.52 L523.61 771.52 L523.61 773.96 L533.38 773.96 L533.38 776.4 L537.45 776.4 L537.45 778.84 L538.26 778.84 L538.26 783.73 L539.08 783.73 L539.08 785.36 L541.52 785.36 L541.52 787.8 L544.77 787.8 L544.77 789.43 L547.22 789.43 L547.22 794.31 L548.03 794.31 L548.03 796.75 L552.91 796.75 L552.91 798.38 L556.17 798.38 L556.17 801.64 L568.38 801.64 L568.38 807.34 L612.34 807.34 L612.34 821.18 L613.48 821.18 L613.48 835.5 L619.99 835.5 L642.2 835.5" fill="none" stroke="#d3222f" stroke-width="1.9" />
<path d="M509.28 744.65 L509.28 754.42 L516.28 754.42 L516.28 767.45 L516.77 767.45 L516.77 782.1 L519.86 782.1 L519.86 795.94 L531.26 795.94 L531.26 813.03 L539.08 813.03 L539.08 829.64 L602.57 829.64" fill="none" stroke="#1f3f98" stroke-width="1.9" />
<line x1="574.08" y1="805.14" x2="574.08" y2="807.34" stroke="#d3222f" stroke-width="1.2" />
<line x1="580.59" y1="805.14" x2="580.59" y2="807.34" stroke="#d3222f" stroke-width="1.2" />
<line x1="587.11" y1="805.14" x2="587.11" y2="807.34" stroke="#d3222f" stroke-width="1.2" />
<line x1="596.87" y1="805.14" x2="596.87" y2="807.34" stroke="#d3222f" stroke-width="1.2" />
<line x1="603.39" y1="805.14" x2="603.39" y2="807.34" stroke="#d3222f" stroke-width="1.2" />
<line x1="610.71" y1="805.14" x2="610.71" y2="807.34" stroke="#d3222f" stroke-width="1.2" />
<line x1="526.05" y1="771.76" x2="526.05" y2="773.96" stroke="#d3222f" stroke-width="1.2" />
<line x1="543.15" y1="785.6" x2="543.15" y2="787.8" stroke="#d3222f" stroke-width="1.2" />
<line x1="633.34" y1="833.3" x2="633.34" y2="835.5" stroke="#d3222f" stroke-width="1.2" />
<line x1="642.2" y1="833.3" x2="642.2" y2="835.5" stroke="#d3222f" stroke-width="1.2" />
<line x1="523.61" y1="793.74" x2="523.61" y2="795.94" stroke="#1f3f98" stroke-width="1.2" />
<line x1="571.64" y1="827.44" x2="571.64" y2="829.64" stroke="#1f3f98" stroke-width="1.2" />
<line x1="602.57" y1="827.44" x2="602.57" y2="829.64" stroke="#1f3f98" stroke-width="1.2" />
<line x1="515" y1="836.4" x2="528.8" y2="836.4" stroke="#d3222f" stroke-width="2" />
<line x1="520.6" y1="834" x2="520.6" y2="836.4" stroke="#d3222f" stroke-width="1.3" />
<text x="532.8" y="841.5" font-size="10.6" font-weight="normal" text-anchor="start" fill="#111" textLength="18.6" lengthAdjust="spacingAndGlyphs" >high</text>
<line x1="515" y1="854.2" x2="528.8" y2="854.2" stroke="#1f3f98" stroke-width="2" />
<line x1="520.6" y1="851.8" x2="520.6" y2="854.2" stroke="#1f3f98" stroke-width="1.3" />
<text x="532.8" y="858" font-size="10.6" font-weight="normal" text-anchor="start" fill="#111" textLength="15.6" lengthAdjust="spacingAndGlyphs" >low</text>
<text x="631.5" y="750.3" font-size="10.6" font-weight="normal" text-anchor="start" fill="#111" textLength="46.8" lengthAdjust="spacingAndGlyphs" >p = 0.1554</text>
<text x="631.5" y="763.1" font-size="10.6" font-weight="normal" text-anchor="start" fill="#111" textLength="53.8" lengthAdjust="spacingAndGlyphs" >HR = 0.5269</text>
</svg></body></html>
